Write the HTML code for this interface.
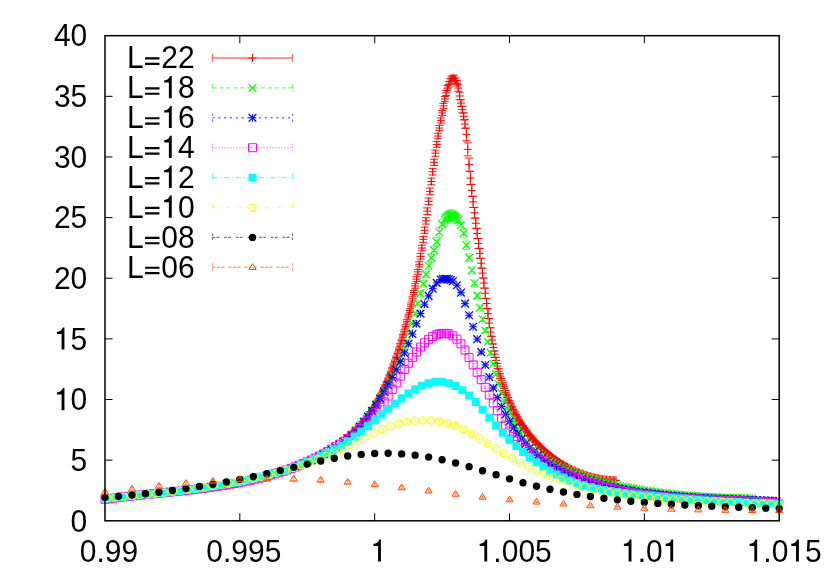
<!DOCTYPE html>
<html><head><meta charset="utf-8"><title>plot</title>
<style>
html,body{margin:0;padding:0;background:#fff;}
body{width:830px;height:581px;overflow:hidden;}
svg{display:block;will-change:transform;}
text{font-family:"Liberation Sans",sans-serif;font-size:30px;fill:#000;}
</style></head><body>
<svg width="830" height="581" viewBox="0 0 830 581">
<rect width="830" height="581" fill="#fff"/>
<path d="M347.71 436.54v1.01M343.71 436.54h8M343.71 437.55h8M349.06 435.4v1.02M345.06 435.4h8M345.06 436.42h8M350.41 434.22v1.03M346.41 434.22h8M346.41 435.26h8M351.76 433.02v1.05M347.76 433.02h8M347.76 434.06h8M353.11 431.78v1.06M349.11 431.78h8M349.11 432.84h8M354.45 430.5v1.08M350.45 430.5h8M350.45 431.58h8M355.8 429.19v1.09M351.8 429.19h8M351.8 430.29h8M357.15 427.85v1.11M353.15 427.85h8M353.15 428.96h8M358.5 426.46v1.13M354.5 426.46h8M354.5 427.58h8M359.85 425.02v1.14M355.85 425.02h8M355.85 426.17h8M361.2 423.54v1.16M357.2 423.54h8M357.2 424.7h8M362.54 422.01v1.18M358.54 422.01h8M358.54 423.19h8M363.89 420.43v1.2M359.89 420.43h8M359.89 421.63h8M365.24 418.79v1.22M361.24 418.79h8M361.24 420.01h8M366.59 417.09v1.24M362.59 417.09h8M362.59 418.33h8M367.94 415.32v1.26M363.94 415.32h8M363.94 416.58h8M369.29 413.48v1.28M365.29 413.48h8M365.29 414.76h8M370.63 411.56v1.3M366.63 411.56h8M366.63 412.87h8M371.98 409.56v1.35M367.98 409.56h8M367.98 410.91h8M373.33 407.47v1.4M369.33 407.47h8M369.33 408.87h8M374.68 405.3v1.46M370.68 405.3h8M370.68 406.76h8M376.03 403.03v1.52M372.03 403.03h8M372.03 404.55h8M377.38 400.68v1.58M373.38 400.68h8M373.38 402.26h8M378.73 398.23v1.65M374.73 398.23h8M374.73 399.87h8M380.07 395.67v1.71M376.07 395.67h8M376.07 397.39h8M381.42 393.02v1.78M377.42 393.02h8M377.42 394.8h8M382.77 390.25v1.86M378.77 390.25h8M378.77 392.11h8M384.12 387.37v1.93M380.12 387.37h8M380.12 389.3h8M385.47 384.38v2.01M381.47 384.38h8M381.47 386.39h8M386.82 381.27v2.09M382.82 381.27h8M382.82 383.36h8M388.16 378.04v2.17M384.16 378.04h8M384.16 380.2h8M389.51 374.68v2.25M385.51 374.68h8M385.51 376.93h8M390.86 371.21v2.33M386.86 371.21h8M386.86 373.54h8M392.21 367.61v2.41M388.21 367.61h8M388.21 370.02h8M393.56 363.9v2.49M389.56 363.9h8M389.56 366.39h8M394.91 360.07v2.56M390.91 360.07h8M390.91 362.63h8M396.25 356.14v2.64M392.25 356.14h8M392.25 358.77h8M397.6 352.09v2.72M393.6 352.09h8M393.6 354.8h8M398.95 347.91v2.8M394.95 347.91h8M394.95 350.71h8M400.3 343.59v2.89M396.3 343.59h8M396.3 346.48h8M401.65 339.13v2.99M397.65 339.13h8M397.65 342.12h8M403 334.52v3.09M399 334.52h8M399 337.61h8M404.34 329.74v3.21M400.34 329.74h8M400.34 332.94h8M405.69 324.78v3.33M401.69 324.78h8M401.69 328.11h8M407.04 319.63v3.46M403.04 319.63h8M403.04 323.08h8M408.39 314.27v3.6M404.39 314.27h8M404.39 317.86h8M409.74 308.69v3.75M405.74 308.69h8M405.74 312.43h8M411.09 302.86v3.91M407.09 302.86h8M407.09 306.77h8M412.44 296.78v4.09M408.44 296.78h8M408.44 300.86h8M413.78 290.41v4.28M409.78 290.41h8M409.78 294.69h8M415.13 283.75v4.48M411.13 283.75h8M411.13 288.22h8M416.48 276.76v4.7M412.48 276.76h8M412.48 281.45h8M417.83 269.42v4.93M413.83 269.42h8M413.83 274.35h8M419.18 261.73v5.17M415.18 261.73h8M415.18 266.9h8M420.53 253.66v5.42M416.53 253.66h8M416.53 259.08h8M421.87 245.21v5.68M417.87 245.21h8M417.87 250.89h8M423.22 236.38v5.93M419.22 236.38h8M419.22 242.31h8M424.57 227.2v6.16M420.57 227.2h8M420.57 233.36h8M425.92 217.69v6.37M421.92 217.69h8M421.92 224.06h8M427.27 207.93v6.52M423.27 207.93h8M423.27 214.46h8M428.62 198.03v6.61M424.62 198.03h8M424.62 204.64h8M429.96 188.09v6.62M425.96 188.09h8M425.96 194.71h8M431.31 178.24v6.55M427.31 178.24h8M427.31 184.78h8M432.66 168.58v6.41M428.66 168.58h8M428.66 174.99h8M434.01 159.21v6.21M430.01 159.21h8M430.01 165.42h8M435.36 150.19v5.97M431.36 150.19h8M431.36 156.16h8M436.71 141.56v5.71M432.71 141.56h8M432.71 147.27h8M438.05 133.32v5.46M434.05 133.32h8M434.05 138.78h8M439.4 125.42v5.23M435.4 125.42h8M435.4 130.65h8M440.75 117.85v5.01M436.75 117.85h8M436.75 122.86h8M442.1 110.54v4.89M438.1 110.54h8M438.1 115.43h8M443.45 103.41v4.98M439.45 103.41h8M439.45 108.39h8M444.8 96.55v5.06M440.8 96.55h8M440.8 101.61h8M446.15 90.39v5.13M442.15 90.39h8M442.15 95.53h8M447.49 85.59v5.19M443.49 85.59h8M443.49 90.78h8M448.84 81.83v5.24M444.84 81.83h8M444.84 87.06h8M450.19 78.75v5.27M446.19 78.75h8M446.19 84.02h8M451.54 76.23v5.3M447.54 76.23h8M447.54 81.54h8M452.89 75.19v5.32M448.89 75.19h8M448.89 80.5h8M454.24 76.01v5.31M450.24 76.01h8M450.24 81.32h8M455.58 77.93v5.28M451.58 77.93h8M451.58 83.22h8M456.93 80.7v5.25M452.93 80.7h8M452.93 85.95h8M458.28 84.65v6.7M454.28 84.65h8M454.28 91.35h8M459.63 92.16v7.62M455.63 92.16h8M455.63 99.78h8M460.98 99.67v6.73M456.98 99.67h8M456.98 106.4h8M462.33 106.34v6.58M458.33 106.34h8M458.33 112.92h8M463.67 112.85v7.03M459.67 112.85h8M459.67 119.88h8M465.02 119.69v8.6M461.02 119.69h8M461.02 128.29h8M466.37 128.02v12.68M462.37 128.02h8M462.37 140.7h8M467.72 142.87v13M463.72 142.87h8M463.72 155.87h8M469.07 158.14v13M465.07 158.14h8M465.07 171.14h8M470.42 171.69v12.79M466.42 171.69h8M466.42 184.48h8M471.76 184.44v11.83M467.76 184.44h8M467.76 196.28h8M473.11 196.25v11.16M469.11 196.25h8M469.11 207.41h8M474.46 207.4v10.68M470.46 207.4h8M470.46 218.07h8M475.81 218.06v10.33M471.81 218.06h8M471.81 228.39h8M477.16 228.38v10.09M473.16 228.38h8M473.16 238.47h8M478.51 238.46v9.94M474.51 238.46h8M474.51 248.41h8M479.86 248.4v9.87M475.86 248.4h8M475.86 258.27h8M481.2 258.26v9.86M477.2 258.26h8M477.2 268.13h8M482.55 268.12v9.93M478.55 268.12h8M478.55 278.05h8M483.9 278.04v10.06M479.9 278.04h8M479.9 288.1h8M485.25 288.1v10.26M481.25 288.1h8M481.25 298.36h8M486.6 298.41v10.24M482.6 298.41h8M482.6 308.64h8M487.95 308.68v9.85M483.95 308.68h8M483.95 318.53h8M489.29 318.55v9.22M485.29 318.55h8M485.29 327.76h8M490.64 327.77v8.48M486.64 327.77h8M486.64 336.25h8M491.99 336.25v7.74M487.99 336.25h8M487.99 343.99h8M493.34 343.98v7.06M489.34 343.98h8M489.34 351.04h8M494.69 351.03v6.44M490.69 351.03h8M490.69 357.47h8M496.04 357.46v5.9M492.04 357.46h8M492.04 363.36h8M497.38 363.35v5.43M493.38 363.35h8M493.38 368.78h8M498.73 368.77v5.01M494.73 368.77h8M494.73 373.78h8M500.08 373.78v4.65M496.08 373.78h8M496.08 378.43h8M501.43 378.43v4.33M497.43 378.43h8M497.43 382.76h8M502.78 382.75v4.05M498.78 382.75h8M498.78 386.8h8M504.13 386.8v3.8M500.13 386.8h8M500.13 390.6h8M505.47 390.6v3.58M501.47 390.6h8M501.47 394.17h8M506.82 394.17v3.37M502.82 394.17h8M502.82 397.55h8M508.17 397.54v3.19M504.17 397.54h8M504.17 400.74h8M509.52 400.74v3.03M505.52 400.74h8M505.52 403.76h8M510.87 403.76v2.88M506.87 403.76h8M506.87 406.64h8M512.22 406.64v2.74M508.22 406.64h8M508.22 409.38h8M513.57 409.38v2.61M509.57 409.38h8M509.57 411.99h8M514.91 411.99v2.5M510.91 411.99h8M510.91 414.49h8M516.26 414.49v2.39M512.26 414.49h8M512.26 416.88h8M517.61 416.88v2.29M513.61 416.88h8M513.61 419.17h8M518.96 419.17v2.2M514.96 419.17h8M514.96 421.37h8M520.31 421.37v2.11M516.31 421.37h8M516.31 423.48h8M521.66 423.48v2.03M517.66 423.48h8M517.66 425.51h8M523 425.51v1.95M519 425.51h8M519 427.46h8M524.35 427.46v1.88M520.35 427.46h8M520.35 429.34h8M525.7 429.34v1.82M521.7 429.34h8M521.7 431.16h8M527.05 431.16v1.75M523.05 431.16h8M523.05 432.91h8M528.4 432.91v1.7M524.4 432.91h8M524.4 434.61h8M529.75 434.61v1.64M525.75 434.61h8M525.75 436.25h8M531.09 436.25v1.59M527.09 436.25h8M527.09 437.84h8M532.44 437.84v1.54M528.44 437.84h8M528.44 439.38h8M533.79 439.38v1.49M529.79 439.38h8M529.79 440.87h8M535.14 440.87v1.45M531.14 440.87h8M531.14 442.32h8M536.49 442.32v1.41M532.49 442.32h8M532.49 443.73h8M537.84 443.73v1.37M533.84 443.73h8M533.84 445.1h8M539.18 445.1v1.33M535.18 445.1h8M535.18 446.42h8M540.53 446.42v1.29M536.53 446.42h8M536.53 447.72h8M541.88 447.72v1.26M537.88 447.72h8M537.88 448.97h8M543.23 448.97v1.22M539.23 448.97h8M539.23 450.19h8M544.58 450.19v1.19M540.58 450.19h8M540.58 451.38h8M545.93 451.38v1.16M541.93 451.38h8M541.93 452.54h8M547.28 452.54v1.12M543.28 452.54h8M543.28 453.66h8M548.62 453.66v1.09M544.62 453.66h8M544.62 454.76h8M549.97 454.76v1.06M545.97 454.76h8M545.97 455.82h8M551.32 455.82v1.04M547.32 455.82h8M547.32 456.86h8M552.67 456.86v1.01M548.67 456.86h8M548.67 457.87h8M554.02 457.87v0.98M550.02 457.87h8M550.02 458.85h8M555.37 458.85v0.95M551.37 458.85h8M551.37 459.8h8M556.71 459.8v0.93M552.71 459.8h8M552.71 460.73h8M558.06 460.73v0.9M554.06 460.73h8M554.06 461.63h8M559.41 461.63v0.88M555.41 461.63h8M555.41 462.51h8M560.76 462.51v0.85M556.76 462.51h8M556.76 463.36h8M562.11 463.36v0.83M558.11 463.36h8M558.11 464.19h8M563.46 464.19v0.8M559.46 464.19h8M559.46 464.99h8" fill="none" stroke="#ff0000" stroke-width="0.9"/>
<path d="M343.71 437.05h8M347.71 433.05v8M345.06 435.91h8M349.06 431.91v8M346.41 434.74h8M350.41 430.74v8M347.76 433.54h8M351.76 429.54v8M349.11 432.31h8M353.11 428.31v8M350.45 431.04h8M354.45 427.04v8M351.8 429.74h8M355.8 425.74v8M353.15 428.4h8M357.15 424.4v8M354.5 427.02h8M358.5 423.02v8M355.85 425.59h8M359.85 421.59v8M357.2 424.12h8M361.2 420.12v8M358.54 422.6h8M362.54 418.6v8M359.89 421.03h8M363.89 417.03v8M361.24 419.4h8M365.24 415.4v8M362.59 417.71h8M366.59 413.71v8M363.94 415.95h8M367.94 411.95v8M365.29 414.12h8M369.29 410.12v8M366.63 412.21h8M370.63 408.21v8M367.98 410.23h8M371.98 406.23v8M369.33 408.17h8M373.33 404.17v8M370.68 406.03h8M374.68 402.03v8M372.03 403.79h8M376.03 399.79v8M373.38 401.47h8M377.38 397.47v8M374.73 399.05h8M378.73 395.05v8M376.07 396.53h8M380.07 392.53v8M377.42 393.91h8M381.42 389.91v8M378.77 391.18h8M382.77 387.18v8M380.12 388.34h8M384.12 384.34v8M381.47 385.38h8M385.47 381.38v8M382.82 382.31h8M386.82 378.31v8M384.16 379.12h8M388.16 375.12v8M385.51 375.81h8M389.51 371.81v8M386.86 372.37h8M390.86 368.37v8M388.21 368.82h8M392.21 364.82v8M389.56 365.14h8M393.56 361.14v8M390.91 361.35h8M394.91 357.35v8M392.25 357.46h8M396.25 353.46v8M393.6 353.44h8M397.6 349.44v8M394.95 349.31h8M398.95 345.31v8M396.3 345.04h8M400.3 341.04v8M397.65 340.63h8M401.65 336.63v8M399 336.06h8M403 332.06v8M400.34 331.34h8M404.34 327.34v8M401.69 326.44h8M405.69 322.44v8M403.04 321.36h8M407.04 317.36v8M404.39 316.07h8M408.39 312.07v8M405.74 310.56h8M409.74 306.56v8M407.09 304.82h8M411.09 300.82v8M408.44 298.82h8M412.44 294.82v8M409.78 292.55h8M413.78 288.55v8M411.13 285.98h8M415.13 281.98v8M412.48 279.1h8M416.48 275.1v8M413.83 271.89h8M417.83 267.89v8M415.18 264.32h8M419.18 260.32v8M416.53 256.37h8M420.53 252.37v8M417.87 248.05h8M421.87 244.05v8M419.22 239.35h8M423.22 235.35v8M420.57 230.28h8M424.57 226.28v8M421.92 220.87h8M425.92 216.87v8M423.27 211.19h8M427.27 207.19v8M424.62 201.33h8M428.62 197.33v8M425.96 191.4h8M429.96 187.4v8M427.31 181.51h8M431.31 177.51v8M428.66 171.78h8M432.66 167.78v8M430.01 162.31h8M434.01 158.31v8M431.36 153.18h8M435.36 149.18v8M432.71 144.42h8M436.71 140.42v8M434.05 136.05h8M438.05 132.05v8M435.4 128.04h8M439.4 124.04v8M436.75 120.36h8M440.75 116.36v8M438.1 112.99h8M442.1 108.99v8M439.45 105.9h8M443.45 101.9v8M440.8 99.08h8M444.8 95.08v8M442.15 92.96h8M446.15 88.96v8M443.49 88.18h8M447.49 84.18v8M444.84 84.44h8M448.84 80.44v8M446.19 81.38h8M450.19 77.38v8M447.54 78.88h8M451.54 74.88v8M448.89 77.85h8M452.89 73.85v8M450.24 78.66h8M454.24 74.66v8M451.58 80.58h8M455.58 76.58v8M452.93 83.33h8M456.93 79.33v8M454.28 88h8M458.28 84v8M455.63 95.97h8M459.63 91.97v8M456.98 103.04h8M460.98 99.04v8M458.33 109.63h8M462.33 105.63v8M459.67 116.37h8M463.67 112.37v8M461.02 123.99h8M465.02 119.99v8M462.37 134.36h8M466.37 130.36v8M463.72 149.37h8M467.72 145.37v8M465.07 164.64h8M469.07 160.64v8M466.42 178.09h8M470.42 174.09v8M467.76 190.36h8M471.76 186.36v8M469.11 201.83h8M473.11 197.83v8M470.46 212.73h8M474.46 208.73v8M471.81 223.22h8M475.81 219.22v8M473.16 233.43h8M477.16 229.43v8M474.51 243.44h8M478.51 239.44v8M475.86 253.33h8M479.86 249.33v8M477.2 263.19h8M481.2 259.19v8M478.55 273.08h8M482.55 269.08v8M479.9 283.07h8M483.9 279.07v8M481.25 293.23h8M485.25 289.23v8M482.6 303.52h8M486.6 299.52v8M483.95 313.6h8M487.95 309.6v8M485.29 323.15h8M489.29 319.15v8M486.64 332.01h8M490.64 328.01v8M487.99 340.12h8M491.99 336.12v8M489.34 347.51h8M493.34 343.51v8M490.69 354.25h8M494.69 350.25v8M492.04 360.41h8M496.04 356.41v8M493.38 366.07h8M497.38 362.07v8M494.73 371.28h8M498.73 367.28v8M496.08 376.1h8M500.08 372.1v8M497.43 380.59h8M501.43 376.59v8M498.78 384.78h8M502.78 380.78v8M500.13 388.7h8M504.13 384.7v8M501.47 392.39h8M505.47 388.39v8M502.82 395.86h8M506.82 391.86v8M504.17 399.14h8M508.17 395.14v8M505.52 402.25h8M509.52 398.25v8M506.87 405.2h8M510.87 401.2v8M508.22 408.01h8M512.22 404.01v8M509.57 410.69h8M513.57 406.69v8M510.91 413.24h8M514.91 409.24v8M512.26 415.68h8M516.26 411.68v8M513.61 418.02h8M517.61 414.02v8M514.96 420.27h8M518.96 416.27v8M516.31 422.42h8M520.31 418.42v8M517.66 424.49h8M521.66 420.49v8M519 426.48h8M523 422.48v8M520.35 428.4h8M524.35 424.4v8M521.7 430.25h8M525.7 426.25v8M523.05 432.04h8M527.05 428.04v8M524.4 433.76h8M528.4 429.76v8M525.75 435.43h8M529.75 431.43v8M527.09 437.04h8M531.09 433.04v8M528.44 438.61h8M532.44 434.61v8M529.79 440.12h8M533.79 436.12v8M531.14 441.6h8M535.14 437.6v8M532.49 443.02h8M536.49 439.02v8M533.84 444.41h8M537.84 440.41v8M535.18 445.76h8M539.18 441.76v8M536.53 447.07h8M540.53 443.07v8M537.88 448.34h8M541.88 444.34v8M539.23 449.58h8M543.23 445.58v8M540.58 450.79h8M544.58 446.79v8M541.93 451.96h8M545.93 447.96v8M543.28 453.1h8M547.28 449.1v8M544.62 454.21h8M548.62 450.21v8M545.97 455.29h8M549.97 451.29v8M547.32 456.34h8M551.32 452.34v8M548.67 457.36h8M552.67 453.36v8M550.02 458.36h8M554.02 454.36v8M551.37 459.32h8M555.37 455.32v8M552.71 460.26h8M556.71 456.26v8M554.06 461.18h8M558.06 457.18v8M555.41 462.07h8M559.41 458.07v8M556.76 462.93h8M560.76 458.93v8M558.11 463.77h8M562.11 459.77v8M559.46 464.59h8M563.46 460.59v8M560.8 465.38h8M564.8 461.38v8M562.15 466.15h8M566.15 462.15v8M563.5 466.9h8M567.5 462.9v8M564.85 467.62h8M568.85 463.62v8M566.2 468.32h8M570.2 464.32v8M567.55 469.01h8M571.55 465.01v8M568.89 469.66h8M572.89 465.66v8M570.24 470.3h8M574.24 466.3v8M571.59 470.92h8M575.59 466.92v8M572.94 471.51h8M576.94 467.51v8M574.29 472.09h8M578.29 468.09v8M575.64 472.64h8M579.64 468.64v8M576.99 473.18h8M580.99 469.18v8M578.33 473.69h8M582.33 469.69v8M579.68 474.19h8M583.68 470.19v8M581.03 474.66h8M585.03 470.66v8M582.38 475.12h8M586.38 471.12v8M583.73 475.55h8M587.73 471.55v8M585.08 475.97h8M589.08 471.97v8M586.42 476.37h8M590.42 472.37v8M587.77 476.74h8M591.77 472.74v8M589.12 477.1h8M593.12 473.1v8M590.47 477.45h8M594.47 473.45v8M591.82 477.77h8M595.82 473.77v8M593.17 478.07h8M597.17 474.07v8M594.51 478.36h8M598.51 474.36v8M595.86 478.62h8M599.86 474.62v8M597.21 478.87h8M601.21 474.87v8M598.56 479.1h8M602.56 475.1v8M599.91 479.31h8M603.91 475.31v8M601.26 479.51h8M605.26 475.51v8M602.6 479.68h8M606.6 475.68v8M603.95 479.84h8M607.95 475.84v8M605.3 479.98h8M609.3 475.98v8M606.65 480.1h8M610.65 476.1v8M608 480.2h8M612 476.2v8M609.35 480.29h8M613.35 476.29v8M610.7 480.36h8M614.7 476.36v8M612.04 480.41h8M616.04 476.41v8" fill="none" stroke="#ff0000" stroke-width="1.0"/>
<path d="M355.8 429.84v0.92M352.6 429.84h6.4M352.6 430.76h6.4M358.5 427.03v0.98M355.3 427.03h6.4M355.3 428h6.4M361.2 424.09v1.04M358 424.09h6.4M358 425.13h6.4M363.89 421.01v1.11M360.69 421.01h6.4M360.69 422.12h6.4M366.59 417.8v1.18M363.39 417.8h6.4M363.39 418.97h6.4M369.29 414.43v1.25M366.09 414.43h6.4M366.09 415.68h6.4M371.98 410.89v1.34M368.78 410.89h6.4M368.78 412.23h6.4M374.68 407.19v1.43M371.48 407.19h6.4M371.48 408.62h6.4M377.38 403.29v1.53M374.18 403.29h6.4M374.18 404.82h6.4M380.07 399.19v1.64M376.87 399.19h6.4M376.87 400.83h6.4M382.77 394.86v1.76M379.57 394.86h6.4M379.57 396.62h6.4M385.47 390.29v1.88M382.27 390.29h6.4M382.27 392.18h6.4M388.16 385.45v2.03M384.96 385.45h6.4M384.96 387.48h6.4M390.86 380.3v2.18M387.66 380.3h6.4M387.66 382.48h6.4M393.56 374.8v2.35M390.36 374.8h6.4M390.36 377.15h6.4M396.25 368.89v2.55M393.05 368.89h6.4M393.05 371.44h6.4M398.95 362.5v2.76M395.75 362.5h6.4M395.75 365.26h6.4M401.65 355.54v3.01M398.45 355.54h6.4M398.45 358.55h6.4M404.34 347.96v3.29M401.14 347.96h6.4M401.14 351.25h6.4M407.04 339.7v3.61M403.84 339.7h6.4M403.84 343.31h6.4M409.74 330.76v3.97M406.54 330.76h6.4M406.54 334.73h6.4M412.44 321.19v4.37M409.24 321.19h6.4M409.24 325.56h6.4M415.13 311.11v4.82M411.93 311.11h6.4M411.93 315.93h6.4M417.83 300.75v5.3M414.63 300.75h6.4M414.63 306.06h6.4M420.53 290.43v5.81M417.33 290.43h6.4M417.33 296.23h6.4M423.22 280.42v6.32M420.02 280.42h6.4M420.02 286.73h6.4M425.92 270.95v6.82M422.72 270.95h6.4M422.72 277.77h6.4M428.62 262.15v7.3M425.42 262.15h6.4M425.42 269.45h6.4M431.31 254v7.76M428.11 254h6.4M428.11 261.76h6.4M434.01 246.02v8.22M430.81 246.02h6.4M430.81 254.24h6.4M436.71 237.5v8.73M433.51 237.5h6.4M433.51 246.23h6.4M439.4 227.53v9.35M436.2 227.53h6.4M436.2 236.88h6.4M442.1 219.18v9.88M438.9 219.18h6.4M438.9 229.05h6.4M444.8 214.4v10.19M441.6 214.4h6.4M441.6 224.59h6.4M446.15 212.78v10.29M442.95 212.78h6.4M442.95 223.07h6.4M447.49 211.5v10.38M444.29 211.5h6.4M444.29 221.88h6.4M448.84 210.56v10.44M445.64 210.56h6.4M445.64 221h6.4M450.19 209.99v10.48M446.99 209.99h6.4M446.99 220.47h6.4M451.54 209.86v10.49M448.34 209.86h6.4M448.34 220.35h6.4M452.89 210.19v10.47M449.69 210.19h6.4M449.69 220.65h6.4M454.24 210.92v10.42M451.04 210.92h6.4M451.04 221.34h6.4M455.58 212.01v10.34M452.38 212.01h6.4M452.38 222.36h6.4M456.93 213.43v10.25M453.73 213.43h6.4M453.73 223.68h6.4M458.28 215.16v10.14M455.08 215.16h6.4M455.08 225.3h6.4M460.98 220.09v9.82M457.78 220.09h6.4M457.78 229.91h6.4M463.67 228.65v9.28M460.47 228.65h6.4M460.47 237.92h6.4M466.37 240.92v8.52M463.17 240.92h6.4M463.17 249.44h6.4M469.07 253.79v7.77M465.87 253.79h6.4M465.87 261.56h6.4M471.76 266.92v7.03M468.56 266.92h6.4M468.56 273.95h6.4M474.46 280.02v6.34M471.26 280.02h6.4M471.26 286.35h6.4M477.16 292.8v5.69M473.96 292.8h6.4M473.96 298.49h6.4M479.86 305.1v5.1M476.66 305.1h6.4M476.66 310.2h6.4M482.55 317v4.56M479.35 317h6.4M479.35 321.56h6.4M485.25 328.61v4.06M482.05 328.61h6.4M482.05 332.66h6.4M487.95 340v3.6M484.75 340h6.4M484.75 343.59h6.4M490.64 351.25v3.17M487.44 351.25h6.4M487.44 354.42h6.4M493.34 362.38v2.77M490.14 362.38h6.4M490.14 365.15h6.4M496.04 373.06v2.41M492.84 373.06h6.4M492.84 375.47h6.4M498.73 382.95v2.1M495.53 382.95h6.4M495.53 385.05h6.4M501.43 391.92v1.84M498.23 391.92h6.4M498.23 393.76h6.4M504.13 399.97v1.62M500.93 399.97h6.4M500.93 401.58h6.4M506.82 407.15v1.43M503.62 407.15h6.4M503.62 408.58h6.4M509.52 413.56v1.28M506.32 413.56h6.4M506.32 414.83h6.4M512.22 419.29v1.14M509.02 419.29h6.4M509.02 420.43h6.4M514.91 424.42v1.03M511.71 424.42h6.4M511.71 425.45h6.4M517.61 429.04v0.94M514.41 429.04h6.4M514.41 429.97h6.4M520.31 433.19v0.85M517.11 433.19h6.4M517.11 434.05h6.4" fill="none" stroke="#00ff00" stroke-width="0.5"/>
<path d="M351.95 426.45l7.7 7.7M351.95 434.15l7.7 -7.7M354.65 423.66l7.7 7.7M354.65 431.36l7.7 -7.7M357.35 420.76l7.7 7.7M357.35 428.46l7.7 -7.7M360.04 417.72l7.7 7.7M360.04 425.42l7.7 -7.7M362.74 414.54l7.7 7.7M362.74 422.24l7.7 -7.7M365.44 411.2l7.7 7.7M365.44 418.9l7.7 -7.7M368.13 407.71l7.7 7.7M368.13 415.41l7.7 -7.7M370.83 404.05l7.7 7.7M370.83 411.75l7.7 -7.7M373.53 400.2l7.7 7.7M373.53 407.9l7.7 -7.7M376.22 396.16l7.7 7.7M376.22 403.86l7.7 -7.7M378.92 391.89l7.7 7.7M378.92 399.59l7.7 -7.7M381.62 387.39l7.7 7.7M381.62 395.09l7.7 -7.7M384.31 382.61l7.7 7.7M384.31 390.31l7.7 -7.7M387.01 377.54l7.7 7.7M387.01 385.24l7.7 -7.7M389.71 372.12l7.7 7.7M389.71 379.82l7.7 -7.7M392.4 366.31l7.7 7.7M392.4 374.01l7.7 -7.7M395.1 360.03l7.7 7.7M395.1 367.73l7.7 -7.7M397.8 353.2l7.7 7.7M397.8 360.9l7.7 -7.7M400.49 345.75l7.7 7.7M400.49 353.45l7.7 -7.7M403.19 337.66l7.7 7.7M403.19 345.36l7.7 -7.7M405.89 328.9l7.7 7.7M405.89 336.6l7.7 -7.7M408.59 319.52l7.7 7.7M408.59 327.22l7.7 -7.7M411.28 309.67l7.7 7.7M411.28 317.37l7.7 -7.7M413.98 299.56l7.7 7.7M413.98 307.26l7.7 -7.7M416.68 289.48l7.7 7.7M416.68 297.18l7.7 -7.7M419.37 279.73l7.7 7.7M419.37 287.43l7.7 -7.7M422.07 270.51l7.7 7.7M422.07 278.21l7.7 -7.7M424.77 261.95l7.7 7.7M424.77 269.65l7.7 -7.7M427.46 254.03l7.7 7.7M427.46 261.73l7.7 -7.7M430.16 246.28l7.7 7.7M430.16 253.98l7.7 -7.7M432.86 238.02l7.7 7.7M432.86 245.72l7.7 -7.7M435.55 228.35l7.7 7.7M435.55 236.05l7.7 -7.7M438.25 220.26l7.7 7.7M438.25 227.96l7.7 -7.7M440.95 215.64l7.7 7.7M440.95 223.34l7.7 -7.7M442.3 214.07l7.7 7.7M442.3 221.77l7.7 -7.7M443.64 212.84l7.7 7.7M443.64 220.54l7.7 -7.7M444.99 211.93l7.7 7.7M444.99 219.63l7.7 -7.7M446.34 211.38l7.7 7.7M446.34 219.08l7.7 -7.7M447.69 211.25l7.7 7.7M447.69 218.95l7.7 -7.7M449.04 211.57l7.7 7.7M449.04 219.27l7.7 -7.7M450.39 212.28l7.7 7.7M450.39 219.98l7.7 -7.7M451.73 213.33l7.7 7.7M451.73 221.03l7.7 -7.7M453.08 214.7l7.7 7.7M453.08 222.4l7.7 -7.7M454.43 216.38l7.7 7.7M454.43 224.08l7.7 -7.7M457.13 221.15l7.7 7.7M457.13 228.85l7.7 -7.7M459.82 229.44l7.7 7.7M459.82 237.14l7.7 -7.7M462.52 241.33l7.7 7.7M462.52 249.03l7.7 -7.7M465.22 253.82l7.7 7.7M465.22 261.52l7.7 -7.7M467.91 266.58l7.7 7.7M467.91 274.28l7.7 -7.7M470.61 279.34l7.7 7.7M470.61 287.04l7.7 -7.7M473.31 291.79l7.7 7.7M473.31 299.49l7.7 -7.7M476.01 303.8l7.7 7.7M476.01 311.5l7.7 -7.7M478.7 315.43l7.7 7.7M478.7 323.13l7.7 -7.7M481.4 326.78l7.7 7.7M481.4 334.48l7.7 -7.7M484.1 337.95l7.7 7.7M484.1 345.65l7.7 -7.7M486.79 348.98l7.7 7.7M486.79 356.68l7.7 -7.7M489.49 359.91l7.7 7.7M489.49 367.61l7.7 -7.7M492.19 370.42l7.7 7.7M492.19 378.12l7.7 -7.7M494.88 380.15l7.7 7.7M494.88 387.85l7.7 -7.7M497.58 388.99l7.7 7.7M497.58 396.69l7.7 -7.7M500.28 396.93l7.7 7.7M500.28 404.63l7.7 -7.7M502.97 404.01l7.7 7.7M502.97 411.71l7.7 -7.7M505.67 410.35l7.7 7.7M505.67 418.05l7.7 -7.7M508.37 416.01l7.7 7.7M508.37 423.71l7.7 -7.7M511.06 421.09l7.7 7.7M511.06 428.79l7.7 -7.7M513.76 425.66l7.7 7.7M513.76 433.36l7.7 -7.7M516.46 429.77l7.7 7.7M516.46 437.47l7.7 -7.7M519.15 433.49l7.7 7.7M519.15 441.19l7.7 -7.7M521.85 436.85l7.7 7.7M521.85 444.55l7.7 -7.7M524.55 439.89l7.7 7.7M524.55 447.59l7.7 -7.7M527.24 442.67l7.7 7.7M527.24 450.37l7.7 -7.7M529.94 445.23l7.7 7.7M529.94 452.93l7.7 -7.7M532.64 447.59l7.7 7.7M532.64 455.29l7.7 -7.7M535.33 449.78l7.7 7.7M535.33 457.48l7.7 -7.7M538.03 451.83l7.7 7.7M538.03 459.53l7.7 -7.7M540.73 453.74l7.7 7.7M540.73 461.44l7.7 -7.7M543.43 455.54l7.7 7.7M543.43 463.24l7.7 -7.7M546.12 457.23l7.7 7.7M546.12 464.93l7.7 -7.7M548.82 458.83l7.7 7.7M548.82 466.53l7.7 -7.7M551.52 460.34l7.7 7.7M551.52 468.04l7.7 -7.7M554.21 461.77l7.7 7.7M554.21 469.47l7.7 -7.7M556.91 463.13l7.7 7.7M556.91 470.83l7.7 -7.7M559.61 464.42l7.7 7.7M559.61 472.12l7.7 -7.7M562.3 465.65l7.7 7.7M562.3 473.35l7.7 -7.7M565 466.83l7.7 7.7M565 474.53l7.7 -7.7M567.7 467.95l7.7 7.7M567.7 475.65l7.7 -7.7M570.39 469.02l7.7 7.7M570.39 476.72l7.7 -7.7M573.09 470.04l7.7 7.7M573.09 477.74l7.7 -7.7M575.79 471.02l7.7 7.7M575.79 478.72l7.7 -7.7M578.48 471.96l7.7 7.7M578.48 479.66l7.7 -7.7M581.18 472.87l7.7 7.7M581.18 480.57l7.7 -7.7M583.88 473.74l7.7 7.7M583.88 481.44l7.7 -7.7M586.57 474.57l7.7 7.7M586.57 482.27l7.7 -7.7M589.27 475.38l7.7 7.7M589.27 483.08l7.7 -7.7M591.97 476.15l7.7 7.7M591.97 483.85l7.7 -7.7M594.66 476.9l7.7 7.7M594.66 484.6l7.7 -7.7M597.36 477.62l7.7 7.7M597.36 485.32l7.7 -7.7M600.06 478.32l7.7 7.7M600.06 486.02l7.7 -7.7M602.75 479l7.7 7.7M602.75 486.7l7.7 -7.7M605.45 479.66l7.7 7.7M605.45 487.36l7.7 -7.7M608.15 480.29l7.7 7.7M608.15 487.99l7.7 -7.7M610.85 480.91l7.7 7.7M610.85 488.61l7.7 -7.7M613.54 481.51l7.7 7.7M613.54 489.21l7.7 -7.7M616.24 482.1l7.7 7.7M616.24 489.8l7.7 -7.7M618.94 482.66l7.7 7.7M618.94 490.36l7.7 -7.7M621.63 483.21l7.7 7.7M621.63 490.91l7.7 -7.7M624.33 483.74l7.7 7.7M624.33 491.44l7.7 -7.7M627.03 484.26l7.7 7.7M627.03 491.96l7.7 -7.7M629.72 484.76l7.7 7.7M629.72 492.46l7.7 -7.7M632.42 485.24l7.7 7.7M632.42 492.94l7.7 -7.7M635.12 485.7l7.7 7.7M635.12 493.4l7.7 -7.7M637.81 486.15l7.7 7.7M637.81 493.85l7.7 -7.7M640.51 486.59l7.7 7.7M640.51 494.29l7.7 -7.7M643.21 487.01l7.7 7.7M643.21 494.71l7.7 -7.7M645.9 487.41l7.7 7.7M645.9 495.11l7.7 -7.7M648.6 487.8l7.7 7.7M648.6 495.5l7.7 -7.7M651.3 488.18l7.7 7.7M651.3 495.88l7.7 -7.7M653.99 488.54l7.7 7.7M653.99 496.24l7.7 -7.7M656.69 488.88l7.7 7.7M656.69 496.58l7.7 -7.7M659.39 489.22l7.7 7.7M659.39 496.92l7.7 -7.7M662.08 489.54l7.7 7.7M662.08 497.24l7.7 -7.7M664.78 489.85l7.7 7.7M664.78 497.55l7.7 -7.7M667.48 490.14l7.7 7.7M667.48 497.84l7.7 -7.7M670.17 490.43l7.7 7.7M670.17 498.13l7.7 -7.7M672.87 490.7l7.7 7.7M672.87 498.4l7.7 -7.7M675.57 490.96l7.7 7.7M675.57 498.66l7.7 -7.7M678.27 491.21l7.7 7.7M678.27 498.91l7.7 -7.7M680.96 491.44l7.7 7.7M680.96 499.14l7.7 -7.7M683.66 491.67l7.7 7.7M683.66 499.37l7.7 -7.7M686.36 491.89l7.7 7.7M686.36 499.59l7.7 -7.7M689.05 492.09l7.7 7.7M689.05 499.79l7.7 -7.7M691.75 492.29l7.7 7.7M691.75 499.99l7.7 -7.7M694.45 492.47l7.7 7.7M694.45 500.17l7.7 -7.7M697.14 492.65l7.7 7.7M697.14 500.35l7.7 -7.7M699.84 492.82l7.7 7.7M699.84 500.52l7.7 -7.7M702.54 492.98l7.7 7.7M702.54 500.68l7.7 -7.7M705.23 493.13l7.7 7.7M705.23 500.83l7.7 -7.7M707.93 493.27l7.7 7.7M707.93 500.97l7.7 -7.7M710.63 493.41l7.7 7.7M710.63 501.11l7.7 -7.7M713.32 493.53l7.7 7.7M713.32 501.23l7.7 -7.7M716.02 493.65l7.7 7.7M716.02 501.35l7.7 -7.7M718.72 493.77l7.7 7.7M718.72 501.47l7.7 -7.7M721.41 493.87l7.7 7.7M721.41 501.57l7.7 -7.7M724.11 493.97l7.7 7.7M724.11 501.67l7.7 -7.7M726.81 494.07l7.7 7.7M726.81 501.77l7.7 -7.7M729.5 494.16l7.7 7.7M729.5 501.86l7.7 -7.7M732.2 494.24l7.7 7.7M732.2 501.94l7.7 -7.7M734.9 494.32l7.7 7.7M734.9 502.02l7.7 -7.7M737.59 494.39l7.7 7.7M737.59 502.09l7.7 -7.7M740.29 494.46l7.7 7.7M740.29 502.16l7.7 -7.7M742.99 494.52l7.7 7.7M742.99 502.22l7.7 -7.7M745.69 494.58l7.7 7.7M745.69 502.28l7.7 -7.7M748.38 494.64l7.7 7.7M748.38 502.34l7.7 -7.7" fill="none" stroke="#00ff00" stroke-width="1.2"/>
<path d="M263.01 475.51h7.6M266.81 471.71v7.6M267.05 474.4h7.6M270.85 470.6v7.6M271.1 473.23h7.6M274.9 469.43v7.6M275.14 472.01h7.6M278.94 468.21v7.6M279.19 470.73h7.6M282.99 466.93v7.6M283.23 469.39h7.6M287.03 465.59v7.6M287.28 467.99h7.6M291.08 464.19v7.6M291.32 466.52h7.6M295.12 462.72v7.6M295.37 464.99h7.6M299.17 461.19v7.6M299.41 463.38h7.6M303.21 459.58v7.6M303.46 461.7h7.6M307.26 457.9v7.6M307.51 459.95h7.6M311.31 456.15v7.6M311.55 458.1h7.6M315.35 454.3v7.6M315.6 456.16h7.6M319.4 452.36v7.6M319.64 454.1h7.6M323.44 450.3v7.6M323.69 451.91h7.6M327.49 448.11v7.6M327.73 449.58h7.6M331.53 445.78v7.6M331.78 447.08h7.6M335.58 443.28v7.6M335.82 444.39h7.6M339.62 440.59v7.6M339.87 441.48h7.6M343.67 437.68v7.6M343.91 438.3h7.6M347.71 434.5v7.6M347.96 434.81h7.6M351.76 431.01v7.6M352 430.95h7.6M355.8 427.15v7.6M356.05 426.63h7.6M359.85 422.83v7.6M360.09 421.83h7.6M363.89 418.03v7.6M364.14 416.57h7.6M367.94 412.77v7.6M368.18 410.88h7.6M371.98 407.08v7.6M372.23 404.82h7.6M376.03 401.02v7.6M376.27 398.47h7.6M380.07 394.67v7.6M380.32 391.82h7.6M384.12 388.02v7.6M384.36 384.83h7.6M388.16 381.03v7.6M388.41 377.49h7.6M392.21 373.69v7.6M392.45 369.76h7.6M396.25 365.96v7.6M396.5 361.6h7.6M400.3 357.8v7.6M400.54 352.95h7.6M404.34 349.15v7.6M404.59 343.78h7.6M408.39 339.98v7.6M408.64 334.01h7.6M412.44 330.21v7.6M412.68 323.72h7.6M416.48 319.92v7.6M416.73 313.57h7.6M420.53 309.77v7.6M420.77 304.19h7.6M424.57 300.39v7.6M424.82 295.87h7.6M428.62 292.07v7.6M428.86 288.59h7.6M432.66 284.79v7.6M432.91 282.84h7.6M436.71 279.04v7.6M436.95 279.68h7.6M440.75 275.88v7.6M438.97 278.99h7.6M442.77 275.19v7.6M441 278.72h7.6M444.8 274.92v7.6M443.02 278.81h7.6M446.82 275.01v7.6M445.04 279.23h7.6M448.84 275.43v7.6M447.06 280h7.6M450.86 276.2v7.6M449.09 281.2h7.6M452.89 277.4v7.6M453.13 285.3h7.6M456.93 281.5v7.6M457.18 292.63h7.6M460.98 288.83v7.6M461.22 303.65h7.6M465.02 299.85v7.6M465.27 315.25h7.6M469.07 311.45v7.6M469.31 326.74h7.6M473.11 322.94v7.6M473.36 339.1h7.6M477.16 335.3v7.6M477.4 352.09h7.6M481.2 348.29v7.6M481.45 364.94h7.6M485.25 361.14v7.6M485.49 377h7.6M489.29 373.2v7.6M489.54 387.93h7.6M493.34 384.13v7.6M493.58 397.71h7.6M497.38 393.91v7.6M497.63 406.47h7.6M501.43 402.67v7.6M501.67 414.35h7.6M505.47 410.55v7.6M505.72 421.45h7.6M509.52 417.65v7.6M509.77 427.87h7.6M513.57 424.07v7.6M513.81 433.66h7.6M517.61 429.86v7.6M517.86 438.91h7.6M521.66 435.11v7.6M521.9 443.66h7.6M525.7 439.86v7.6M525.95 447.95h7.6M529.75 444.15v7.6M529.99 451.83h7.6M533.79 448.03v7.6M534.04 455.32h7.6M537.84 451.52v7.6M538.08 458.48h7.6M541.88 454.68v7.6M542.13 461.35h7.6M545.93 457.55v7.6M546.17 463.97h7.6M549.97 460.17v7.6M550.22 466.38h7.6M554.02 462.58v7.6M554.26 468.59h7.6M558.06 464.79v7.6M558.31 470.64h7.6M562.11 466.84v7.6M562.35 472.53h7.6M566.15 468.73v7.6M566.4 474.28h7.6M570.2 470.48v7.6M570.44 475.91h7.6M574.24 472.11v7.6M574.49 477.43h7.6M578.29 473.63v7.6M578.53 478.85h7.6M582.33 475.05v7.6M582.58 480.17h7.6M586.38 476.37v7.6M586.62 481.41h7.6M590.42 477.61v7.6M590.67 482.57h7.6M594.47 478.77v7.6M594.71 483.66h7.6M598.51 479.86v7.6M598.76 484.69h7.6M602.56 480.89v7.6M602.8 485.65h7.6M606.6 481.85v7.6M606.85 486.56h7.6M610.65 482.76v7.6M610.9 487.43h7.6M614.7 483.63v7.6M614.94 488.24h7.6M618.74 484.44v7.6M618.99 489.02h7.6M622.79 485.22v7.6M623.03 489.75h7.6M626.83 485.95v7.6M627.08 490.45h7.6M630.88 486.65v7.6M631.12 491.12h7.6M634.92 487.32v7.6M635.17 491.75h7.6M638.97 487.95v7.6M639.21 492.34h7.6M643.01 488.54v7.6M643.26 492.9h7.6M647.06 489.1v7.6M647.3 493.43h7.6M651.1 489.63v7.6M651.35 493.93h7.6M655.15 490.13v7.6M655.39 494.4h7.6M659.19 490.6v7.6M659.44 494.84h7.6M663.24 491.04v7.6M663.48 495.25h7.6M667.28 491.45v7.6M667.53 495.64h7.6M671.33 491.84v7.6M671.57 496.01h7.6M675.37 492.21v7.6M675.62 496.35h7.6M679.42 492.55v7.6M679.66 496.67h7.6M683.46 492.87v7.6M683.71 496.96h7.6M687.51 493.16v7.6M687.75 497.24h7.6M691.55 493.44v7.6M691.8 497.5h7.6M695.6 493.7v7.6M695.84 497.75h7.6M699.64 493.95v7.6M699.89 497.97h7.6M703.69 494.17v7.6M703.93 498.19h7.6M707.73 494.39v7.6M707.98 498.39h7.6M711.78 494.59v7.6M712.03 498.58h7.6M715.83 494.78v7.6M716.07 498.76h7.6M719.87 494.96v7.6M720.12 498.92h7.6M723.92 495.12v7.6M724.16 499.09h7.6M727.96 495.29v7.6M728.21 499.24h7.6M732.01 495.44v7.6M732.25 499.39h7.6M736.05 495.59v7.6M736.3 499.54h7.6M740.1 495.74v7.6M740.34 499.68h7.6M744.14 495.88v7.6M744.39 499.82h7.6M748.19 496.02v7.6M748.43 499.96h7.6M752.23 496.16v7.6M752.48 500.1h7.6M756.28 496.3v7.6M756.52 500.24h7.6M760.32 496.44v7.6M760.57 500.39h7.6M764.37 496.59v7.6M764.61 500.54h7.6M768.41 496.74v7.6M768.66 500.7h7.6M772.46 496.9v7.6M772.7 500.86h7.6M776.5 497.06v7.6" fill="none" stroke="#0000ff" stroke-width="1"/>
<path d="M262.96 471.66l7.7 7.7M262.96 479.36l7.7 -7.7M267 470.55l7.7 7.7M267 478.25l7.7 -7.7M271.05 469.38l7.7 7.7M271.05 477.08l7.7 -7.7M275.09 468.16l7.7 7.7M275.09 475.86l7.7 -7.7M279.14 466.88l7.7 7.7M279.14 474.58l7.7 -7.7M283.18 465.54l7.7 7.7M283.18 473.24l7.7 -7.7M287.23 464.14l7.7 7.7M287.23 471.84l7.7 -7.7M291.27 462.67l7.7 7.7M291.27 470.37l7.7 -7.7M295.32 461.14l7.7 7.7M295.32 468.84l7.7 -7.7M299.36 459.53l7.7 7.7M299.36 467.23l7.7 -7.7M303.41 457.85l7.7 7.7M303.41 465.55l7.7 -7.7M307.46 456.1l7.7 7.7M307.46 463.8l7.7 -7.7M311.5 454.25l7.7 7.7M311.5 461.95l7.7 -7.7M315.55 452.31l7.7 7.7M315.55 460.01l7.7 -7.7M319.59 450.25l7.7 7.7M319.59 457.95l7.7 -7.7M323.64 448.06l7.7 7.7M323.64 455.76l7.7 -7.7M327.68 445.73l7.7 7.7M327.68 453.43l7.7 -7.7M331.73 443.23l7.7 7.7M331.73 450.93l7.7 -7.7M335.77 440.54l7.7 7.7M335.77 448.24l7.7 -7.7M339.82 437.63l7.7 7.7M339.82 445.33l7.7 -7.7M343.86 434.45l7.7 7.7M343.86 442.15l7.7 -7.7M347.91 430.96l7.7 7.7M347.91 438.66l7.7 -7.7M351.95 427.1l7.7 7.7M351.95 434.8l7.7 -7.7M356 422.78l7.7 7.7M356 430.48l7.7 -7.7M360.04 417.98l7.7 7.7M360.04 425.68l7.7 -7.7M364.09 412.72l7.7 7.7M364.09 420.42l7.7 -7.7M368.13 407.03l7.7 7.7M368.13 414.73l7.7 -7.7M372.18 400.97l7.7 7.7M372.18 408.67l7.7 -7.7M376.22 394.62l7.7 7.7M376.22 402.32l7.7 -7.7M380.27 387.97l7.7 7.7M380.27 395.67l7.7 -7.7M384.31 380.98l7.7 7.7M384.31 388.68l7.7 -7.7M388.36 373.64l7.7 7.7M388.36 381.34l7.7 -7.7M392.4 365.91l7.7 7.7M392.4 373.61l7.7 -7.7M396.45 357.75l7.7 7.7M396.45 365.45l7.7 -7.7M400.49 349.1l7.7 7.7M400.49 356.8l7.7 -7.7M404.54 339.93l7.7 7.7M404.54 347.63l7.7 -7.7M408.59 330.16l7.7 7.7M408.59 337.86l7.7 -7.7M412.63 319.87l7.7 7.7M412.63 327.57l7.7 -7.7M416.68 309.72l7.7 7.7M416.68 317.42l7.7 -7.7M420.72 300.34l7.7 7.7M420.72 308.04l7.7 -7.7M424.77 292.02l7.7 7.7M424.77 299.72l7.7 -7.7M428.81 284.74l7.7 7.7M428.81 292.44l7.7 -7.7M432.86 278.99l7.7 7.7M432.86 286.69l7.7 -7.7M436.9 275.83l7.7 7.7M436.9 283.53l7.7 -7.7M438.92 275.14l7.7 7.7M438.92 282.84l7.7 -7.7M440.95 274.87l7.7 7.7M440.95 282.57l7.7 -7.7M442.97 274.96l7.7 7.7M442.97 282.66l7.7 -7.7M444.99 275.38l7.7 7.7M444.99 283.08l7.7 -7.7M447.01 276.15l7.7 7.7M447.01 283.85l7.7 -7.7M449.04 277.35l7.7 7.7M449.04 285.05l7.7 -7.7M453.08 281.45l7.7 7.7M453.08 289.15l7.7 -7.7M457.13 288.78l7.7 7.7M457.13 296.48l7.7 -7.7M461.17 299.8l7.7 7.7M461.17 307.5l7.7 -7.7M465.22 311.4l7.7 7.7M465.22 319.1l7.7 -7.7M469.26 322.89l7.7 7.7M469.26 330.59l7.7 -7.7M473.31 335.25l7.7 7.7M473.31 342.95l7.7 -7.7M477.35 348.24l7.7 7.7M477.35 355.94l7.7 -7.7M481.4 361.09l7.7 7.7M481.4 368.79l7.7 -7.7M485.44 373.15l7.7 7.7M485.44 380.85l7.7 -7.7M489.49 384.08l7.7 7.7M489.49 391.78l7.7 -7.7M493.53 393.86l7.7 7.7M493.53 401.56l7.7 -7.7M497.58 402.62l7.7 7.7M497.58 410.32l7.7 -7.7M501.62 410.5l7.7 7.7M501.62 418.2l7.7 -7.7M505.67 417.6l7.7 7.7M505.67 425.3l7.7 -7.7M509.72 424.02l7.7 7.7M509.72 431.72l7.7 -7.7M513.76 429.81l7.7 7.7M513.76 437.51l7.7 -7.7M517.81 435.06l7.7 7.7M517.81 442.76l7.7 -7.7M521.85 439.81l7.7 7.7M521.85 447.51l7.7 -7.7M525.9 444.1l7.7 7.7M525.9 451.8l7.7 -7.7M529.94 447.98l7.7 7.7M529.94 455.68l7.7 -7.7M533.99 451.47l7.7 7.7M533.99 459.17l7.7 -7.7M538.03 454.63l7.7 7.7M538.03 462.33l7.7 -7.7M542.08 457.5l7.7 7.7M542.08 465.2l7.7 -7.7M546.12 460.12l7.7 7.7M546.12 467.82l7.7 -7.7M550.17 462.53l7.7 7.7M550.17 470.23l7.7 -7.7M554.21 464.74l7.7 7.7M554.21 472.44l7.7 -7.7M558.26 466.79l7.7 7.7M558.26 474.49l7.7 -7.7M562.3 468.68l7.7 7.7M562.3 476.38l7.7 -7.7M566.35 470.43l7.7 7.7M566.35 478.13l7.7 -7.7M570.39 472.06l7.7 7.7M570.39 479.76l7.7 -7.7M574.44 473.58l7.7 7.7M574.44 481.28l7.7 -7.7M578.48 475l7.7 7.7M578.48 482.7l7.7 -7.7M582.53 476.32l7.7 7.7M582.53 484.02l7.7 -7.7M586.57 477.56l7.7 7.7M586.57 485.26l7.7 -7.7M590.62 478.72l7.7 7.7M590.62 486.42l7.7 -7.7M594.66 479.81l7.7 7.7M594.66 487.51l7.7 -7.7M598.71 480.84l7.7 7.7M598.71 488.54l7.7 -7.7M602.75 481.8l7.7 7.7M602.75 489.5l7.7 -7.7M606.8 482.71l7.7 7.7M606.8 490.41l7.7 -7.7M610.85 483.58l7.7 7.7M610.85 491.28l7.7 -7.7M614.89 484.39l7.7 7.7M614.89 492.09l7.7 -7.7M618.94 485.17l7.7 7.7M618.94 492.87l7.7 -7.7M622.98 485.9l7.7 7.7M622.98 493.6l7.7 -7.7M627.03 486.6l7.7 7.7M627.03 494.3l7.7 -7.7M631.07 487.27l7.7 7.7M631.07 494.97l7.7 -7.7M635.12 487.9l7.7 7.7M635.12 495.6l7.7 -7.7M639.16 488.49l7.7 7.7M639.16 496.19l7.7 -7.7M643.21 489.05l7.7 7.7M643.21 496.75l7.7 -7.7M647.25 489.58l7.7 7.7M647.25 497.28l7.7 -7.7M651.3 490.08l7.7 7.7M651.3 497.78l7.7 -7.7M655.34 490.55l7.7 7.7M655.34 498.25l7.7 -7.7M659.39 490.99l7.7 7.7M659.39 498.69l7.7 -7.7M663.43 491.4l7.7 7.7M663.43 499.1l7.7 -7.7M667.48 491.79l7.7 7.7M667.48 499.49l7.7 -7.7M671.52 492.16l7.7 7.7M671.52 499.86l7.7 -7.7M675.57 492.5l7.7 7.7M675.57 500.2l7.7 -7.7M679.61 492.82l7.7 7.7M679.61 500.52l7.7 -7.7M683.66 493.11l7.7 7.7M683.66 500.81l7.7 -7.7M687.7 493.39l7.7 7.7M687.7 501.09l7.7 -7.7M691.75 493.65l7.7 7.7M691.75 501.35l7.7 -7.7M695.79 493.9l7.7 7.7M695.79 501.6l7.7 -7.7M699.84 494.12l7.7 7.7M699.84 501.82l7.7 -7.7M703.88 494.34l7.7 7.7M703.88 502.04l7.7 -7.7M707.93 494.54l7.7 7.7M707.93 502.24l7.7 -7.7M711.98 494.73l7.7 7.7M711.98 502.43l7.7 -7.7M716.02 494.91l7.7 7.7M716.02 502.61l7.7 -7.7M720.07 495.07l7.7 7.7M720.07 502.77l7.7 -7.7M724.11 495.24l7.7 7.7M724.11 502.94l7.7 -7.7M728.16 495.39l7.7 7.7M728.16 503.09l7.7 -7.7M732.2 495.54l7.7 7.7M732.2 503.24l7.7 -7.7M736.25 495.69l7.7 7.7M736.25 503.39l7.7 -7.7M740.29 495.83l7.7 7.7M740.29 503.53l7.7 -7.7M744.34 495.97l7.7 7.7M744.34 503.67l7.7 -7.7M748.38 496.11l7.7 7.7M748.38 503.81l7.7 -7.7M752.43 496.25l7.7 7.7M752.43 503.95l7.7 -7.7M756.47 496.39l7.7 7.7M756.47 504.09l7.7 -7.7M760.52 496.54l7.7 7.7M760.52 504.24l7.7 -7.7M764.56 496.69l7.7 7.7M764.56 504.39l7.7 -7.7M768.61 496.85l7.7 7.7M768.61 504.55l7.7 -7.7M772.65 497.01l7.7 7.7M772.65 504.71l7.7 -7.7" fill="none" stroke="#0000ff" stroke-width="1.3"/>
<path d="M266.81 475.78v0.8M265.61 475.78h2.4M265.61 476.58h2.4M270.85 474.64v0.82M269.65 474.64h2.4M269.65 475.46h2.4M274.9 473.43v0.84M273.7 473.43h2.4M273.7 474.28h2.4M278.94 472.17v0.87M277.74 472.17h2.4M277.74 473.04h2.4M282.99 470.84v0.89M281.79 470.84h2.4M281.79 471.74h2.4M287.03 469.45v0.92M285.83 469.45h2.4M285.83 470.36h2.4M291.08 467.98v0.94M289.88 467.98h2.4M289.88 468.92h2.4M295.12 466.44v0.97M293.92 466.44h2.4M293.92 467.41h2.4M299.17 464.82v1M297.97 464.82h2.4M297.97 465.82h2.4M303.21 463.12v1.03M302.01 463.12h2.4M302.01 464.15h2.4M307.26 461.33v1.06M306.06 461.33h2.4M306.06 462.39h2.4M311.31 459.46v1.09M310.11 459.46h2.4M310.11 460.55h2.4M315.35 457.49v1.13M314.15 457.49h2.4M314.15 458.62h2.4M319.4 455.43v1.17M318.2 455.43h2.4M318.2 456.59h2.4M323.44 453.26v1.2M322.24 453.26h2.4M322.24 454.46h2.4M327.49 450.98v1.25M326.29 450.98h2.4M326.29 452.23h2.4M331.53 448.59v1.29M330.33 448.59h2.4M330.33 449.88h2.4M335.58 446.08v1.33M334.38 446.08h2.4M334.38 447.41h2.4M339.62 443.43v1.38M338.42 443.43h2.4M338.42 444.81h2.4M343.67 440.64v1.43M342.47 440.64h2.4M342.47 442.07h2.4M347.71 437.7v1.48M346.51 437.7h2.4M346.51 439.18h2.4M351.76 434.59v1.54M350.56 434.59h2.4M350.56 436.13h2.4M355.8 431.3v1.6M354.6 431.3h2.4M354.6 432.89h2.4M359.85 427.8v1.66M358.65 427.8h2.4M358.65 429.46h2.4M363.89 424.08v1.73M362.69 424.08h2.4M362.69 425.8h2.4M367.94 420.1v1.8M366.74 420.1h2.4M366.74 421.9h2.4M371.98 415.84v1.87M370.78 415.84h2.4M370.78 417.71h2.4M376.03 411.24v1.95M374.83 411.24h2.4M374.83 413.2h2.4M380.07 406.25v2.04M378.87 406.25h2.4M378.87 408.3h2.4M384.12 400.8v2.14M382.92 400.8h2.4M382.92 402.94h2.4M388.16 394.82v2.25M386.96 394.82h2.4M386.96 397.07h2.4M392.21 388.4v2.36M391.01 388.4h2.4M391.01 390.76h2.4M396.25 381.68v2.48M395.05 381.68h2.4M395.05 384.16h2.4M400.3 374.87v2.6M399.1 374.87h2.4M399.1 377.48h2.4M404.34 368.19v2.72M403.14 368.19h2.4M403.14 370.91h2.4M408.39 361.82v2.84M407.19 361.82h2.4M407.19 364.66h2.4M412.44 355.89v2.94M411.24 355.89h2.4M411.24 358.84h2.4M416.48 350.47v3.04M415.28 350.47h2.4M415.28 353.51h2.4M420.53 345.58v3.13M419.33 345.58h2.4M419.33 348.7h2.4M424.57 341.28v3.2M423.37 341.28h2.4M423.37 344.48h2.4M428.62 337.72v3.27M427.42 337.72h2.4M427.42 340.98h2.4M432.66 334.98v3.31M431.46 334.98h2.4M431.46 338.29h2.4M436.71 333.06v3.35M435.51 333.06h2.4M435.51 336.41h2.4M439.13 332.3v3.36M437.93 332.3h2.4M437.93 335.67h2.4M441.56 331.82v3.37M440.36 331.82h2.4M440.36 335.2h2.4M443.99 331.64v3.37M442.79 331.64h2.4M442.79 335.02h2.4M446.41 331.78v3.37M445.21 331.78h2.4M445.21 335.15h2.4M448.84 332.29v3.36M447.64 332.29h2.4M447.64 335.66h2.4M452.89 334.19v3.33M451.69 334.19h2.4M451.69 337.52h2.4M456.93 337.5v3.27M455.73 337.5h2.4M455.73 340.77h2.4M460.98 342.26v3.19M459.78 342.26h2.4M459.78 345.45h2.4M465.02 348.58v3.07M463.82 348.58h2.4M463.82 351.65h2.4M469.07 356.05v2.94M467.87 356.05h2.4M467.87 358.99h2.4M473.11 363.53v2.81M471.91 363.53h2.4M471.91 366.33h2.4M477.16 370.92v2.67M475.96 370.92h2.4M475.96 373.59h2.4M481.2 378.43v2.54M480 378.43h2.4M480 380.97h2.4M485.25 386.1v2.4M484.05 386.1h2.4M484.05 388.5h2.4M489.29 393.89v2.26M488.09 393.89h2.4M488.09 396.16h2.4M493.34 401.81v2.12M492.14 401.81h2.4M492.14 403.94h2.4M497.38 409.76v1.98M496.18 409.76h2.4M496.18 411.74h2.4M501.43 417.34v1.85M500.23 417.34h2.4M500.23 419.19h2.4M505.47 424.25v1.72M504.27 424.25h2.4M504.27 425.97h2.4M509.52 430.34v1.61M508.32 430.34h2.4M508.32 431.95h2.4M513.57 435.6v1.52M512.37 435.6h2.4M512.37 437.12h2.4M517.61 440.16v1.44M516.41 440.16h2.4M516.41 441.6h2.4M521.66 444.2v1.37M520.46 444.2h2.4M520.46 445.57h2.4M525.7 447.85v1.3M524.5 447.85h2.4M524.5 449.15h2.4M529.75 451.18v1.24M528.55 451.18h2.4M528.55 452.42h2.4M533.79 454.25v1.19M532.59 454.25h2.4M532.59 455.44h2.4M537.84 457.12v1.14M536.64 457.12h2.4M536.64 458.25h2.4M541.88 459.8v1.09M540.68 459.8h2.4M540.68 460.89h2.4M545.93 462.33v1.04M544.73 462.33h2.4M544.73 463.37h2.4M549.97 464.72v1M548.77 464.72h2.4M548.77 465.72h2.4M554.02 466.97v0.96M552.82 466.97h2.4M552.82 467.93h2.4M558.06 469.11v0.92M556.86 469.11h2.4M556.86 470.03h2.4M562.11 471.12v0.89M560.91 471.12h2.4M560.91 472.01h2.4M566.15 473.03v0.85M564.95 473.03h2.4M564.95 473.88h2.4M570.2 474.83v0.82M569 474.83h2.4M569 475.65h2.4" fill="none" stroke="#ff00ff" stroke-width="0.6"/>
<path d="M101 495.28h8v8h-8zM105.05 494.74h8v8h-8zM109.09 494.21h8v8h-8zM113.14 493.7h8v8h-8zM117.18 493.21h8v8h-8zM121.23 492.74h8v8h-8zM125.27 492.28h8v8h-8zM129.32 491.84h8v8h-8zM133.36 491.4h8v8h-8zM137.41 490.98h8v8h-8zM141.45 490.56h8v8h-8zM145.5 490.14h8v8h-8zM149.54 489.73h8v8h-8zM153.59 489.33h8v8h-8zM157.63 488.92h8v8h-8zM161.68 488.51h8v8h-8zM165.72 488.09h8v8h-8zM169.77 487.67h8v8h-8zM173.81 487.24h8v8h-8zM177.86 486.81h8v8h-8zM181.9 486.36h8v8h-8zM185.95 485.9h8v8h-8zM189.99 485.42h8v8h-8zM194.04 484.93h8v8h-8zM198.08 484.42h8v8h-8zM202.13 483.89h8v8h-8zM206.18 483.34h8v8h-8zM210.22 482.76h8v8h-8zM214.27 482.16h8v8h-8zM218.31 481.53h8v8h-8zM222.36 480.88h8v8h-8zM226.4 480.19h8v8h-8zM230.45 479.46h8v8h-8zM234.49 478.7h8v8h-8zM238.54 477.9h8v8h-8zM242.58 477.06h8v8h-8zM246.63 476.18h8v8h-8zM250.67 475.26h8v8h-8zM254.72 474.28h8v8h-8zM258.76 473.26h8v8h-8zM262.81 472.18h8v8h-8zM266.85 471.05h8v8h-8zM270.9 469.86h8v8h-8zM274.94 468.61h8v8h-8zM278.99 467.29h8v8h-8zM283.03 465.91h8v8h-8zM287.08 464.45h8v8h-8zM291.12 462.92h8v8h-8zM295.17 461.32h8v8h-8zM299.21 459.63h8v8h-8zM303.26 457.86h8v8h-8zM307.31 456.01h8v8h-8zM311.35 454.06h8v8h-8zM315.4 452.01h8v8h-8zM319.44 449.86h8v8h-8zM323.49 447.61h8v8h-8zM327.53 445.24h8v8h-8zM331.58 442.74h8v8h-8zM335.62 440.12h8v8h-8zM339.67 437.36h8v8h-8zM343.71 434.44h8v8h-8zM347.76 431.36h8v8h-8zM351.8 428.09h8v8h-8zM355.85 424.63h8v8h-8zM359.89 420.94h8v8h-8zM363.94 417h8v8h-8zM367.98 412.77h8v8h-8zM372.03 408.22h8v8h-8zM376.07 403.28h8v8h-8zM380.12 397.87h8v8h-8zM384.16 391.95h8v8h-8zM388.21 385.58h8v8h-8zM392.25 378.92h8v8h-8zM396.3 372.17h8v8h-8zM400.34 365.55h8v8h-8zM404.39 359.24h8v8h-8zM408.44 353.36h8v8h-8zM412.48 347.99h8v8h-8zM416.53 343.14h8v8h-8zM420.57 338.88h8v8h-8zM424.62 335.35h8v8h-8zM428.66 332.64h8v8h-8zM432.71 330.74h8v8h-8zM435.13 329.98h8v8h-8zM437.56 329.51h8v8h-8zM439.99 329.33h8v8h-8zM442.41 329.47h8v8h-8zM444.84 329.98h8v8h-8zM448.89 331.86h8v8h-8zM452.93 335.14h8v8h-8zM456.98 339.85h8v8h-8zM461.02 346.11h8v8h-8zM465.07 353.52h8v8h-8zM469.11 360.93h8v8h-8zM473.16 368.25h8v8h-8zM477.2 375.7h8v8h-8zM481.25 383.3h8v8h-8zM485.29 391.03h8v8h-8zM489.34 398.87h8v8h-8zM493.38 406.75h8v8h-8zM497.43 414.27h8v8h-8zM501.47 421.11h8v8h-8zM505.52 427.14h8v8h-8zM509.57 432.36h8v8h-8zM513.61 436.88h8v8h-8zM517.66 440.88h8v8h-8zM521.7 444.5h8v8h-8zM525.75 447.8h8v8h-8zM529.79 450.85h8v8h-8zM533.84 453.69h8v8h-8zM537.88 456.34h8v8h-8zM541.93 458.85h8v8h-8zM545.97 461.22h8v8h-8zM550.02 463.45h8v8h-8zM554.06 465.57h8v8h-8zM558.11 467.57h8v8h-8zM562.15 469.46h8v8h-8zM566.2 471.24h8v8h-8zM570.24 472.93h8v8h-8zM574.29 474.52h8v8h-8zM578.33 476.02h8v8h-8zM582.38 477.43h8v8h-8zM586.42 478.77h8v8h-8zM590.47 480.03h8v8h-8zM594.51 481.21h8v8h-8zM598.56 482.32h8v8h-8zM602.6 483.37h8v8h-8zM606.65 484.36h8v8h-8zM610.7 485.28h8v8h-8zM614.74 486.15h8v8h-8zM618.79 486.96h8v8h-8zM622.83 487.72h8v8h-8zM626.88 488.43h8v8h-8zM630.92 489.1h8v8h-8zM634.97 489.72h8v8h-8zM639.01 490.3h8v8h-8zM643.06 490.84h8v8h-8zM647.1 491.34h8v8h-8zM651.15 491.81h8v8h-8zM655.19 492.24h8v8h-8zM659.24 492.64h8v8h-8zM663.28 493.02h8v8h-8zM667.33 493.36h8v8h-8zM671.37 493.68h8v8h-8zM675.42 493.98h8v8h-8zM679.46 494.26h8v8h-8zM683.51 494.51h8v8h-8zM687.55 494.75h8v8h-8zM691.6 494.97h8v8h-8zM695.64 495.18h8v8h-8zM699.69 495.38h8v8h-8zM703.73 495.56h8v8h-8zM707.78 495.74h8v8h-8zM711.83 495.9h8v8h-8zM715.87 496.06h8v8h-8zM719.92 496.22h8v8h-8zM723.96 496.38h8v8h-8zM728.01 496.53h8v8h-8zM732.05 496.69h8v8h-8zM736.1 496.85h8v8h-8zM740.14 497.02h8v8h-8zM744.19 497.19h8v8h-8zM748.23 497.37h8v8h-8zM752.28 497.56h8v8h-8zM756.32 497.76h8v8h-8zM760.37 497.98h8v8h-8zM764.41 498.22h8v8h-8zM768.46 498.47h8v8h-8zM772.5 498.75h8v8h-8z" fill="none" stroke="#ff00ff" stroke-width="1.0"/>
<path d="M101.05 494.67h7.9v7.9h-7.9zM107.79 493.99h7.9v7.9h-7.9zM114.53 493.31h7.9v7.9h-7.9zM121.28 492.65h7.9v7.9h-7.9zM128.02 491.99h7.9v7.9h-7.9zM134.76 491.33h7.9v7.9h-7.9zM141.5 490.66h7.9v7.9h-7.9zM148.24 489.98h7.9v7.9h-7.9zM154.99 489.28h7.9v7.9h-7.9zM161.73 488.55h7.9v7.9h-7.9zM168.47 487.8h7.9v7.9h-7.9zM175.21 487.01h7.9v7.9h-7.9zM181.95 486.19h7.9v7.9h-7.9zM188.7 485.31h7.9v7.9h-7.9zM195.44 484.39h7.9v7.9h-7.9zM202.18 483.41h7.9v7.9h-7.9zM208.92 482.37h7.9v7.9h-7.9zM215.66 481.26h7.9v7.9h-7.9zM222.41 480.08h7.9v7.9h-7.9zM229.15 478.82h7.9v7.9h-7.9zM235.89 477.48h7.9v7.9h-7.9zM242.63 476.04h7.9v7.9h-7.9zM249.37 474.51h7.9v7.9h-7.9zM256.12 472.87h7.9v7.9h-7.9zM262.86 471.12h7.9v7.9h-7.9zM269.6 469.25h7.9v7.9h-7.9zM276.34 467.27h7.9v7.9h-7.9zM283.08 465.15h7.9v7.9h-7.9zM289.83 462.89h7.9v7.9h-7.9zM296.57 460.46h7.9v7.9h-7.9zM303.31 457.86h7.9v7.9h-7.9zM310.05 455.07h7.9v7.9h-7.9zM316.79 452.06h7.9v7.9h-7.9zM323.54 448.79h7.9v7.9h-7.9zM330.28 445.26h7.9v7.9h-7.9zM337.02 441.4h7.9v7.9h-7.9zM343.76 437.17h7.9v7.9h-7.9zM350.5 432.52h7.9v7.9h-7.9zM357.25 427.43h7.9v7.9h-7.9zM363.99 422h7.9v7.9h-7.9zM370.73 416.33h7.9v7.9h-7.9zM377.47 410.58h7.9v7.9h-7.9zM384.21 404.91h7.9v7.9h-7.9zM390.96 399.44h7.9v7.9h-7.9zM397.7 394.29h7.9v7.9h-7.9zM404.44 389.54h7.9v7.9h-7.9zM411.18 385.31h7.9v7.9h-7.9zM417.92 381.8h7.9v7.9h-7.9zM424.67 379.22h7.9v7.9h-7.9zM431.41 377.78h7.9v7.9h-7.9zM438.15 377.69h7.9v7.9h-7.9zM444.89 379.14h7.9v7.9h-7.9zM451.63 382h7.9v7.9h-7.9zM458.38 386.14h7.9v7.9h-7.9zM465.12 391.53h7.9v7.9h-7.9zM471.86 398.1h7.9v7.9h-7.9zM478.6 405.61h7.9v7.9h-7.9zM485.34 413.56h7.9v7.9h-7.9zM492.09 421.37h7.9v7.9h-7.9zM498.83 428.8h7.9v7.9h-7.9zM505.57 435.75h7.9v7.9h-7.9zM512.31 442.18h7.9v7.9h-7.9zM519.05 448.07h7.9v7.9h-7.9zM525.8 453.45h7.9v7.9h-7.9zM532.54 458.36h7.9v7.9h-7.9zM539.28 462.83h7.9v7.9h-7.9zM546.02 466.87h7.9v7.9h-7.9zM552.76 470.5h7.9v7.9h-7.9zM559.51 473.73h7.9v7.9h-7.9zM566.25 476.56h7.9v7.9h-7.9zM572.99 479.01h7.9v7.9h-7.9zM579.73 481.13h7.9v7.9h-7.9zM586.47 482.96h7.9v7.9h-7.9zM593.22 484.54h7.9v7.9h-7.9zM599.96 485.9h7.9v7.9h-7.9zM606.7 487.08h7.9v7.9h-7.9zM613.44 488.11h7.9v7.9h-7.9zM620.18 489h7.9v7.9h-7.9zM626.93 489.8h7.9v7.9h-7.9zM633.67 490.52h7.9v7.9h-7.9zM640.41 491.18h7.9v7.9h-7.9zM647.15 491.82h7.9v7.9h-7.9zM653.89 492.44h7.9v7.9h-7.9zM660.64 493.05h7.9v7.9h-7.9zM667.38 493.63h7.9v7.9h-7.9zM674.12 494.2h7.9v7.9h-7.9zM680.86 494.74h7.9v7.9h-7.9zM687.6 495.26h7.9v7.9h-7.9zM694.35 495.75h7.9v7.9h-7.9zM701.09 496.22h7.9v7.9h-7.9zM707.83 496.66h7.9v7.9h-7.9zM714.57 497.07h7.9v7.9h-7.9zM721.31 497.44h7.9v7.9h-7.9zM728.06 497.79h7.9v7.9h-7.9zM734.8 498.1h7.9v7.9h-7.9zM741.54 498.38h7.9v7.9h-7.9zM748.28 498.63h7.9v7.9h-7.9zM755.02 498.83h7.9v7.9h-7.9zM761.77 499h7.9v7.9h-7.9zM768.51 499.13h7.9v7.9h-7.9zM775.25 499.22h7.9v7.9h-7.9z" fill="#00ffff" stroke="none"/>
<path d="M228.78 483.08v0.82M227.38 483.08h2.8M227.38 483.9h2.8M236.87 481.56v0.85M235.47 481.56h2.8M235.47 482.42h2.8M244.96 479.94v0.89M243.56 479.94h2.8M243.56 480.83h2.8M253.05 478.19v0.93M251.65 478.19h2.8M251.65 479.12h2.8M261.14 476.32v0.97M259.74 476.32h2.8M259.74 477.29h2.8M269.24 474.31v1.01M267.84 474.31h2.8M267.84 475.32h2.8M277.33 472.14v1.06M275.93 472.14h2.8M275.93 473.2h2.8M285.42 469.82v1.11M284.02 469.82h2.8M284.02 470.93h2.8M293.51 467.33v1.16M292.11 467.33h2.8M292.11 468.49h2.8M301.6 464.65v1.22M300.2 464.65h2.8M300.2 465.87h2.8M309.69 461.77v1.28M308.29 461.77h2.8M308.29 463.06h2.8M317.78 458.69v1.35M316.38 458.69h2.8M316.38 460.04h2.8M325.87 455.38v1.42M324.47 455.38h2.8M324.47 456.8h2.8M333.96 451.83v1.5M332.56 451.83h2.8M332.56 453.33h2.8M342.05 448.02v1.58M340.65 448.02h2.8M340.65 449.6h2.8M350.14 443.96v1.67M348.74 443.96h2.8M348.74 445.64h2.8M358.23 439.79v1.76M356.83 439.79h2.8M356.83 441.56h2.8M366.32 435.67v1.85M364.92 435.67h2.8M364.92 437.52h2.8M374.41 431.74v1.94M373.01 431.74h2.8M373.01 433.68h2.8M382.5 428.17v2.02M381.1 428.17h2.8M381.1 430.18h2.8M390.59 425.08v2.08M389.19 425.08h2.8M389.19 427.17h2.8M398.68 422.6v2.14M397.28 422.6h2.8M397.28 424.73h2.8M406.77 420.78v2.18M405.37 420.78h2.8M405.37 422.96h2.8M414.86 419.64v2.2M413.46 419.64h2.8M413.46 421.84h2.8M422.95 419.18v2.21M421.55 419.18h2.8M421.55 421.39h2.8M431.04 419.4v2.21M429.64 419.4h2.8M429.64 421.6h2.8M439.13 420.35v2.19M437.73 420.35h2.8M437.73 422.53h2.8M447.22 422.08v2.15M445.82 422.08h2.8M445.82 424.23h2.8M455.31 424.7v2.09M453.91 424.7h2.8M453.91 426.79h2.8M463.4 428.24v2.01M462 428.24h2.8M462 430.26h2.8M471.5 432.55v1.92M470.1 432.55h2.8M470.1 434.47h2.8M479.59 437.35v1.82M478.19 437.35h2.8M478.19 439.17h2.8M487.68 442.44v1.71M486.28 442.44h2.8M486.28 444.15h2.8M495.77 447.6v1.59M494.37 447.6h2.8M494.37 449.2h2.8M503.86 452.66v1.48M502.46 452.66h2.8M502.46 454.14h2.8M511.95 457.47v1.38M510.55 457.47h2.8M510.55 458.85h2.8M520.04 461.91v1.28M518.64 461.91h2.8M518.64 463.2h2.8M528.13 466.01v1.19M526.73 466.01h2.8M526.73 467.2h2.8M536.22 469.77v1.11M534.82 469.77h2.8M534.82 470.88h2.8M544.31 473.24v1.04M542.91 473.24h2.8M542.91 474.27h2.8M552.4 476.41v0.97M551 476.41h2.8M551 477.38h2.8M560.49 479.32v0.9M559.09 479.32h2.8M559.09 480.22h2.8M568.58 481.96v0.85M567.18 481.96h2.8M567.18 482.81h2.8" fill="none" stroke="#ffff00" stroke-width="0.6"/>
<path d="M103.88 498.38a3.55 3.55 0 1 0 7.1 0a3.55 3.55 0 1 0 -7.1 0M111.97 497.57a3.55 3.55 0 1 0 7.1 0a3.55 3.55 0 1 0 -7.1 0M120.06 496.76a3.55 3.55 0 1 0 7.1 0a3.55 3.55 0 1 0 -7.1 0M128.15 495.95a3.55 3.55 0 1 0 7.1 0a3.55 3.55 0 1 0 -7.1 0M136.24 495.14a3.55 3.55 0 1 0 7.1 0a3.55 3.55 0 1 0 -7.1 0M144.33 494.3a3.55 3.55 0 1 0 7.1 0a3.55 3.55 0 1 0 -7.1 0M152.42 493.45a3.55 3.55 0 1 0 7.1 0a3.55 3.55 0 1 0 -7.1 0M160.51 492.56a3.55 3.55 0 1 0 7.1 0a3.55 3.55 0 1 0 -7.1 0M168.6 491.64a3.55 3.55 0 1 0 7.1 0a3.55 3.55 0 1 0 -7.1 0M176.69 490.67a3.55 3.55 0 1 0 7.1 0a3.55 3.55 0 1 0 -7.1 0M184.78 489.65a3.55 3.55 0 1 0 7.1 0a3.55 3.55 0 1 0 -7.1 0M192.87 488.57a3.55 3.55 0 1 0 7.1 0a3.55 3.55 0 1 0 -7.1 0M200.96 487.42a3.55 3.55 0 1 0 7.1 0a3.55 3.55 0 1 0 -7.1 0M209.05 486.2a3.55 3.55 0 1 0 7.1 0a3.55 3.55 0 1 0 -7.1 0M217.14 484.89a3.55 3.55 0 1 0 7.1 0a3.55 3.55 0 1 0 -7.1 0M225.23 483.49a3.55 3.55 0 1 0 7.1 0a3.55 3.55 0 1 0 -7.1 0M233.32 481.99a3.55 3.55 0 1 0 7.1 0a3.55 3.55 0 1 0 -7.1 0M241.41 480.38a3.55 3.55 0 1 0 7.1 0a3.55 3.55 0 1 0 -7.1 0M249.5 478.66a3.55 3.55 0 1 0 7.1 0a3.55 3.55 0 1 0 -7.1 0M257.59 476.8a3.55 3.55 0 1 0 7.1 0a3.55 3.55 0 1 0 -7.1 0M265.69 474.81a3.55 3.55 0 1 0 7.1 0a3.55 3.55 0 1 0 -7.1 0M273.78 472.67a3.55 3.55 0 1 0 7.1 0a3.55 3.55 0 1 0 -7.1 0M281.87 470.38a3.55 3.55 0 1 0 7.1 0a3.55 3.55 0 1 0 -7.1 0M289.96 467.91a3.55 3.55 0 1 0 7.1 0a3.55 3.55 0 1 0 -7.1 0M298.05 465.26a3.55 3.55 0 1 0 7.1 0a3.55 3.55 0 1 0 -7.1 0M306.14 462.42a3.55 3.55 0 1 0 7.1 0a3.55 3.55 0 1 0 -7.1 0M314.23 459.36a3.55 3.55 0 1 0 7.1 0a3.55 3.55 0 1 0 -7.1 0M322.32 456.09a3.55 3.55 0 1 0 7.1 0a3.55 3.55 0 1 0 -7.1 0M330.41 452.58a3.55 3.55 0 1 0 7.1 0a3.55 3.55 0 1 0 -7.1 0M338.5 448.81a3.55 3.55 0 1 0 7.1 0a3.55 3.55 0 1 0 -7.1 0M346.59 444.8a3.55 3.55 0 1 0 7.1 0a3.55 3.55 0 1 0 -7.1 0M354.68 440.67a3.55 3.55 0 1 0 7.1 0a3.55 3.55 0 1 0 -7.1 0M362.77 436.59a3.55 3.55 0 1 0 7.1 0a3.55 3.55 0 1 0 -7.1 0M370.86 432.71a3.55 3.55 0 1 0 7.1 0a3.55 3.55 0 1 0 -7.1 0M378.95 429.18a3.55 3.55 0 1 0 7.1 0a3.55 3.55 0 1 0 -7.1 0M387.04 426.12a3.55 3.55 0 1 0 7.1 0a3.55 3.55 0 1 0 -7.1 0M395.13 423.67a3.55 3.55 0 1 0 7.1 0a3.55 3.55 0 1 0 -7.1 0M403.22 421.87a3.55 3.55 0 1 0 7.1 0a3.55 3.55 0 1 0 -7.1 0M411.31 420.74a3.55 3.55 0 1 0 7.1 0a3.55 3.55 0 1 0 -7.1 0M419.4 420.28a3.55 3.55 0 1 0 7.1 0a3.55 3.55 0 1 0 -7.1 0M427.49 420.5a3.55 3.55 0 1 0 7.1 0a3.55 3.55 0 1 0 -7.1 0M435.58 421.44a3.55 3.55 0 1 0 7.1 0a3.55 3.55 0 1 0 -7.1 0M443.67 423.16a3.55 3.55 0 1 0 7.1 0a3.55 3.55 0 1 0 -7.1 0M451.76 425.74a3.55 3.55 0 1 0 7.1 0a3.55 3.55 0 1 0 -7.1 0M459.85 429.25a3.55 3.55 0 1 0 7.1 0a3.55 3.55 0 1 0 -7.1 0M467.95 433.51a3.55 3.55 0 1 0 7.1 0a3.55 3.55 0 1 0 -7.1 0M476.04 438.26a3.55 3.55 0 1 0 7.1 0a3.55 3.55 0 1 0 -7.1 0M484.13 443.3a3.55 3.55 0 1 0 7.1 0a3.55 3.55 0 1 0 -7.1 0M492.22 448.4a3.55 3.55 0 1 0 7.1 0a3.55 3.55 0 1 0 -7.1 0M500.31 453.4a3.55 3.55 0 1 0 7.1 0a3.55 3.55 0 1 0 -7.1 0M508.4 458.16a3.55 3.55 0 1 0 7.1 0a3.55 3.55 0 1 0 -7.1 0M516.49 462.55a3.55 3.55 0 1 0 7.1 0a3.55 3.55 0 1 0 -7.1 0M524.58 466.6a3.55 3.55 0 1 0 7.1 0a3.55 3.55 0 1 0 -7.1 0M532.67 470.33a3.55 3.55 0 1 0 7.1 0a3.55 3.55 0 1 0 -7.1 0M540.76 473.75a3.55 3.55 0 1 0 7.1 0a3.55 3.55 0 1 0 -7.1 0M548.85 476.9a3.55 3.55 0 1 0 7.1 0a3.55 3.55 0 1 0 -7.1 0M556.94 479.77a3.55 3.55 0 1 0 7.1 0a3.55 3.55 0 1 0 -7.1 0M565.03 482.39a3.55 3.55 0 1 0 7.1 0a3.55 3.55 0 1 0 -7.1 0M573.12 484.76a3.55 3.55 0 1 0 7.1 0a3.55 3.55 0 1 0 -7.1 0M581.21 486.9a3.55 3.55 0 1 0 7.1 0a3.55 3.55 0 1 0 -7.1 0M589.3 488.82a3.55 3.55 0 1 0 7.1 0a3.55 3.55 0 1 0 -7.1 0M597.39 490.55a3.55 3.55 0 1 0 7.1 0a3.55 3.55 0 1 0 -7.1 0M605.48 492.1a3.55 3.55 0 1 0 7.1 0a3.55 3.55 0 1 0 -7.1 0M613.57 493.48a3.55 3.55 0 1 0 7.1 0a3.55 3.55 0 1 0 -7.1 0M621.66 494.7a3.55 3.55 0 1 0 7.1 0a3.55 3.55 0 1 0 -7.1 0M629.75 495.79a3.55 3.55 0 1 0 7.1 0a3.55 3.55 0 1 0 -7.1 0M637.84 496.74a3.55 3.55 0 1 0 7.1 0a3.55 3.55 0 1 0 -7.1 0M645.93 497.58a3.55 3.55 0 1 0 7.1 0a3.55 3.55 0 1 0 -7.1 0M654.02 498.32a3.55 3.55 0 1 0 7.1 0a3.55 3.55 0 1 0 -7.1 0M662.11 498.97a3.55 3.55 0 1 0 7.1 0a3.55 3.55 0 1 0 -7.1 0M670.21 499.53a3.55 3.55 0 1 0 7.1 0a3.55 3.55 0 1 0 -7.1 0M678.3 500.03a3.55 3.55 0 1 0 7.1 0a3.55 3.55 0 1 0 -7.1 0M686.39 500.47a3.55 3.55 0 1 0 7.1 0a3.55 3.55 0 1 0 -7.1 0M694.48 500.86a3.55 3.55 0 1 0 7.1 0a3.55 3.55 0 1 0 -7.1 0M702.57 501.22a3.55 3.55 0 1 0 7.1 0a3.55 3.55 0 1 0 -7.1 0M710.66 501.55a3.55 3.55 0 1 0 7.1 0a3.55 3.55 0 1 0 -7.1 0M718.75 501.87a3.55 3.55 0 1 0 7.1 0a3.55 3.55 0 1 0 -7.1 0M726.84 502.18a3.55 3.55 0 1 0 7.1 0a3.55 3.55 0 1 0 -7.1 0M734.93 502.5a3.55 3.55 0 1 0 7.1 0a3.55 3.55 0 1 0 -7.1 0M743.02 502.85a3.55 3.55 0 1 0 7.1 0a3.55 3.55 0 1 0 -7.1 0M751.11 503.22a3.55 3.55 0 1 0 7.1 0a3.55 3.55 0 1 0 -7.1 0M759.2 503.63a3.55 3.55 0 1 0 7.1 0a3.55 3.55 0 1 0 -7.1 0M767.29 504.09a3.55 3.55 0 1 0 7.1 0a3.55 3.55 0 1 0 -7.1 0M775.38 504.62a3.55 3.55 0 1 0 7.1 0a3.55 3.55 0 1 0 -7.1 0" fill="none" stroke="#ffff00" stroke-width="1.15"/>
<path d="M101.3 497.33a3.7 3.7 0 1 0 7.4 0a3.7 3.7 0 1 0 -7.4 0zM114.78 496.31a3.7 3.7 0 1 0 7.4 0a3.7 3.7 0 1 0 -7.4 0zM128.27 495.11a3.7 3.7 0 1 0 7.4 0a3.7 3.7 0 1 0 -7.4 0zM141.75 493.75a3.7 3.7 0 1 0 7.4 0a3.7 3.7 0 1 0 -7.4 0zM155.24 492.21a3.7 3.7 0 1 0 7.4 0a3.7 3.7 0 1 0 -7.4 0zM168.72 490.5a3.7 3.7 0 1 0 7.4 0a3.7 3.7 0 1 0 -7.4 0zM182.2 488.61a3.7 3.7 0 1 0 7.4 0a3.7 3.7 0 1 0 -7.4 0zM195.69 486.56a3.7 3.7 0 1 0 7.4 0a3.7 3.7 0 1 0 -7.4 0zM209.17 484.32a3.7 3.7 0 1 0 7.4 0a3.7 3.7 0 1 0 -7.4 0zM222.66 481.92a3.7 3.7 0 1 0 7.4 0a3.7 3.7 0 1 0 -7.4 0zM236.14 479.34a3.7 3.7 0 1 0 7.4 0a3.7 3.7 0 1 0 -7.4 0zM249.62 476.59a3.7 3.7 0 1 0 7.4 0a3.7 3.7 0 1 0 -7.4 0zM263.11 473.67a3.7 3.7 0 1 0 7.4 0a3.7 3.7 0 1 0 -7.4 0zM276.59 470.58a3.7 3.7 0 1 0 7.4 0a3.7 3.7 0 1 0 -7.4 0zM290.08 467.34a3.7 3.7 0 1 0 7.4 0a3.7 3.7 0 1 0 -7.4 0zM303.56 464.11a3.7 3.7 0 1 0 7.4 0a3.7 3.7 0 1 0 -7.4 0zM317.04 461.03a3.7 3.7 0 1 0 7.4 0a3.7 3.7 0 1 0 -7.4 0zM330.53 458.28a3.7 3.7 0 1 0 7.4 0a3.7 3.7 0 1 0 -7.4 0zM344.01 456a3.7 3.7 0 1 0 7.4 0a3.7 3.7 0 1 0 -7.4 0zM357.5 454.36a3.7 3.7 0 1 0 7.4 0a3.7 3.7 0 1 0 -7.4 0zM370.98 453.46a3.7 3.7 0 1 0 7.4 0a3.7 3.7 0 1 0 -7.4 0zM384.46 453.31a3.7 3.7 0 1 0 7.4 0a3.7 3.7 0 1 0 -7.4 0zM397.95 453.88a3.7 3.7 0 1 0 7.4 0a3.7 3.7 0 1 0 -7.4 0zM411.43 455.15a3.7 3.7 0 1 0 7.4 0a3.7 3.7 0 1 0 -7.4 0zM424.92 457.09a3.7 3.7 0 1 0 7.4 0a3.7 3.7 0 1 0 -7.4 0zM438.4 459.7a3.7 3.7 0 1 0 7.4 0a3.7 3.7 0 1 0 -7.4 0zM451.88 462.94a3.7 3.7 0 1 0 7.4 0a3.7 3.7 0 1 0 -7.4 0zM465.37 466.67a3.7 3.7 0 1 0 7.4 0a3.7 3.7 0 1 0 -7.4 0zM478.85 470.69a3.7 3.7 0 1 0 7.4 0a3.7 3.7 0 1 0 -7.4 0zM492.34 474.81a3.7 3.7 0 1 0 7.4 0a3.7 3.7 0 1 0 -7.4 0zM505.82 478.85a3.7 3.7 0 1 0 7.4 0a3.7 3.7 0 1 0 -7.4 0zM519.3 482.69a3.7 3.7 0 1 0 7.4 0a3.7 3.7 0 1 0 -7.4 0zM532.79 486.21a3.7 3.7 0 1 0 7.4 0a3.7 3.7 0 1 0 -7.4 0zM546.27 489.32a3.7 3.7 0 1 0 7.4 0a3.7 3.7 0 1 0 -7.4 0zM559.76 492.04a3.7 3.7 0 1 0 7.4 0a3.7 3.7 0 1 0 -7.4 0zM573.24 494.41a3.7 3.7 0 1 0 7.4 0a3.7 3.7 0 1 0 -7.4 0zM586.72 496.48a3.7 3.7 0 1 0 7.4 0a3.7 3.7 0 1 0 -7.4 0zM600.21 498.28a3.7 3.7 0 1 0 7.4 0a3.7 3.7 0 1 0 -7.4 0zM613.69 499.84a3.7 3.7 0 1 0 7.4 0a3.7 3.7 0 1 0 -7.4 0zM627.18 501.19a3.7 3.7 0 1 0 7.4 0a3.7 3.7 0 1 0 -7.4 0zM640.66 502.36a3.7 3.7 0 1 0 7.4 0a3.7 3.7 0 1 0 -7.4 0zM654.14 503.38a3.7 3.7 0 1 0 7.4 0a3.7 3.7 0 1 0 -7.4 0zM667.63 504.25a3.7 3.7 0 1 0 7.4 0a3.7 3.7 0 1 0 -7.4 0zM681.11 505.01a3.7 3.7 0 1 0 7.4 0a3.7 3.7 0 1 0 -7.4 0zM694.6 505.66a3.7 3.7 0 1 0 7.4 0a3.7 3.7 0 1 0 -7.4 0zM708.08 506.24a3.7 3.7 0 1 0 7.4 0a3.7 3.7 0 1 0 -7.4 0zM721.56 506.76a3.7 3.7 0 1 0 7.4 0a3.7 3.7 0 1 0 -7.4 0zM735.05 507.24a3.7 3.7 0 1 0 7.4 0a3.7 3.7 0 1 0 -7.4 0zM748.53 507.69a3.7 3.7 0 1 0 7.4 0a3.7 3.7 0 1 0 -7.4 0zM762.02 508.15a3.7 3.7 0 1 0 7.4 0a3.7 3.7 0 1 0 -7.4 0zM775.5 508.62a3.7 3.7 0 1 0 7.4 0a3.7 3.7 0 1 0 -7.4 0z" fill="#000000" stroke="none"/>
<path d="M105 490.87v2.3M103 490.87h4M103 493.17h4M131.97 487.72v2.54M129.97 487.72h4M129.97 490.27h4M158.94 484.6v2.78M156.94 484.6h4M156.94 487.39h4M185.9 481.76v3M183.9 481.76h4M183.9 484.76h4M212.87 479.43v3.18M210.87 479.43h4M210.87 482.61h4M239.84 477.83v3.31M237.84 477.83h4M237.84 481.13h4M266.81 477.07v3.36M264.81 477.07h4M264.81 480.43h4M293.78 477.24v3.35M291.78 477.24h4M291.78 480.59h4M320.74 478.39v3.26M318.74 478.39h4M318.74 481.65h4M347.71 480.38v3.11M345.71 480.38h4M345.71 483.49h4M374.68 483.06v2.9M372.68 483.06h4M372.68 485.97h4M401.65 486.24v2.66M399.65 486.24h4M399.65 488.89h4M428.62 489.63v2.4M426.62 489.63h4M426.62 492.03h4M455.58 492.96v2.14M453.58 492.96h4M453.58 495.11h4M482.55 496v1.91M480.55 496h4M480.55 497.9h4M509.52 498.69v1.7M507.52 498.69h4M507.52 500.39h4M536.49 501.07v1.52M534.49 501.07h4M534.49 502.59h4M563.46 503.13v1.36M561.46 503.13h4M561.46 504.49h4M590.42 504.9v1.22M588.42 504.9h4M588.42 506.12h4M617.39 506.38v1.11M615.39 506.38h4M615.39 507.49h4M644.36 507.58v1.02M642.36 507.58h4M642.36 508.6h4M671.33 508.53v0.94M669.33 508.53h4M669.33 509.47h4M698.3 509.23v0.89M696.3 509.23h4M696.3 510.12h4M725.26 509.69v0.85M723.26 509.69h4M723.26 510.54h4M752.23 509.92v0.84M750.23 509.92h4M750.23 510.76h4M779.2 509.94v0.84M777.2 509.94h4M777.2 510.77h4" fill="none" stroke="#ff4d00" stroke-width="0.6"/>
<path d="M105 488.42l3.6 5.8h-7.2zM131.97 485.39l3.6 5.8h-7.2zM158.94 482.4l3.6 5.8h-7.2zM185.9 479.66l3.6 5.8h-7.2zM212.87 477.42l3.6 5.8h-7.2zM239.84 475.88l3.6 5.8h-7.2zM266.81 475.15l3.6 5.8h-7.2zM293.78 475.31l3.6 5.8h-7.2zM320.74 476.42l3.6 5.8h-7.2zM347.71 478.34l3.6 5.8h-7.2zM374.68 480.92l3.6 5.8h-7.2zM401.65 483.97l3.6 5.8h-7.2zM428.62 487.23l3.6 5.8h-7.2zM455.58 490.43l3.6 5.8h-7.2zM482.55 493.35l3.6 5.8h-7.2zM509.52 495.94l3.6 5.8h-7.2zM536.49 498.23l3.6 5.8h-7.2zM563.46 500.21l3.6 5.8h-7.2zM590.42 501.91l3.6 5.8h-7.2zM617.39 503.33l3.6 5.8h-7.2zM644.36 504.49l3.6 5.8h-7.2zM671.33 505.4l3.6 5.8h-7.2zM698.3 506.07l3.6 5.8h-7.2zM725.26 506.51l3.6 5.8h-7.2zM752.23 506.74l3.6 5.8h-7.2zM779.2 506.76l3.6 5.8h-7.2z" fill="none" stroke="#ff4d00" stroke-width="1.0"/>
<path d="M212.5 58H292.5" fill="none" stroke="#ff0000" stroke-width="1.4" stroke-opacity="0.55"/>
<path d="M212.5 54v8M292.5 54v8" fill="none" stroke="#ff0000" stroke-width="1.2" stroke-opacity="0.55"/>
<path d="M248.5 58h8M252.5 54v8" fill="none" stroke="#ff0000" stroke-width="1.0"/>
<text transform="translate(127.04 68.3) scale(1 1.053)">L</text><path d="M145.07 57.35h14.4v2.2h-14.4zM145.07 62.75h14.4v2.2h-14.4z" fill="#000"/><text transform="translate(161.24 68.3) scale(1 1.053)">22</text>
<path d="M212.5 87.9H292.5" fill="none" stroke="#00ff00" stroke-width="1.4" stroke-opacity="0.55" stroke-dasharray="4.4 2.5"/>
<path d="M212.5 83.9v8M292.5 83.9v8" fill="none" stroke="#00ff00" stroke-width="1.2" stroke-opacity="0.55" stroke-dasharray="4.4 2.5"/>
<path d="M248.65 84.05l7.7 7.7M248.65 91.75l7.7 -7.7" fill="none" stroke="#00ff00" stroke-width="1.2"/>
<text transform="translate(127.04 98.2) scale(1 1.053)">L</text><path d="M145.07 87.25h14.4v2.2h-14.4zM145.07 92.65h14.4v2.2h-14.4z" fill="#000"/><path d="M171.74 98.2H168.89V82.6H164.19V80.4C167.24 80.2 168.94 79 170.04 76H171.74Z" fill="#000"/><text transform="translate(177.92 98.2) scale(1 1.053)">8</text>
<path d="M212.5 117.8H292.5" fill="none" stroke="#0000ff" stroke-width="1.4" stroke-opacity="0.55" stroke-dasharray="2.2 3.6"/>
<path d="M212.5 113.8v8M292.5 113.8v8" fill="none" stroke="#0000ff" stroke-width="1.2" stroke-opacity="0.55" stroke-dasharray="2.2 3.6"/>
<path d="M248.7 117.8h7.6M252.5 114v7.6" fill="none" stroke="#0000ff" stroke-width="1"/>
<path d="M248.65 113.95l7.7 7.7M248.65 121.65l7.7 -7.7" fill="none" stroke="#0000ff" stroke-width="1.3"/>
<text transform="translate(127.04 128.1) scale(1 1.053)">L</text><path d="M145.07 117.15h14.4v2.2h-14.4zM145.07 122.55h14.4v2.2h-14.4z" fill="#000"/><path d="M171.74 128.1H168.89V112.5H164.19V110.3C167.24 110.1 168.94 108.9 170.04 105.9H171.74Z" fill="#000"/><text transform="translate(177.92 128.1) scale(1 1.053)">6</text>
<path d="M212.5 147.7H292.5" fill="none" stroke="#ff00ff" stroke-width="1.4" stroke-opacity="0.55" stroke-dasharray="1 2"/>
<path d="M212.5 143.7v8M292.5 143.7v8" fill="none" stroke="#ff00ff" stroke-width="1.2" stroke-opacity="0.55" stroke-dasharray="1 2"/>
<path d="M248.5 143.7h8v8h-8z" fill="none" stroke="#ff00ff" stroke-width="1.0"/>
<text transform="translate(127.04 158) scale(1 1.053)">L</text><path d="M145.07 147.05h14.4v2.2h-14.4zM145.07 152.45h14.4v2.2h-14.4z" fill="#000"/><path d="M171.74 158H168.89V142.4H164.19V140.2C167.24 140 168.94 138.8 170.04 135.8H171.74Z" fill="#000"/><text transform="translate(177.92 158) scale(1 1.053)">4</text>
<path d="M212.5 177.6H292.5" fill="none" stroke="#00ffff" stroke-width="1.4" stroke-opacity="0.55" stroke-dasharray="5.5 2.4 1.2 2.4"/>
<path d="M212.5 173.6v8M292.5 173.6v8" fill="none" stroke="#00ffff" stroke-width="1.2" stroke-opacity="0.55" stroke-dasharray="5.5 2.4 1.2 2.4"/>
<path d="M248.55 173.65h7.9v7.9h-7.9z" fill="#00ffff"/>
<text transform="translate(127.04 187.9) scale(1 1.053)">L</text><path d="M145.07 176.95h14.4v2.2h-14.4zM145.07 182.35h14.4v2.2h-14.4z" fill="#000"/><path d="M171.74 187.9H168.89V172.3H164.19V170.1C167.24 169.9 168.94 168.7 170.04 165.7H171.74Z" fill="#000"/><text transform="translate(177.92 187.9) scale(1 1.053)">2</text>
<path d="M212.5 207.5H292.5" fill="none" stroke="#ffff00" stroke-width="1.4" stroke-opacity="0.55" stroke-dasharray="4 4 1 4"/>
<path d="M212.5 203.5v8M292.5 203.5v8" fill="none" stroke="#ffff00" stroke-width="1.2" stroke-opacity="0.55" stroke-dasharray="4 4 1 4"/>
<path d="M248.95 207.5a3.55 3.55 0 1 0 7.1 0a3.55 3.55 0 1 0 -7.1 0" fill="none" stroke="#ffff00" stroke-width="1.15"/>
<text transform="translate(127.04 217.8) scale(1 1.053)">L</text><path d="M145.07 206.85h14.4v2.2h-14.4zM145.07 212.25h14.4v2.2h-14.4z" fill="#000"/><path d="M171.74 217.8H168.89V202.2H164.19V200C167.24 199.8 168.94 198.6 170.04 195.6H171.74Z" fill="#000"/><text transform="translate(177.92 217.8) scale(1 1.053)">0</text>
<path d="M212.5 237.4H292.5" fill="none" stroke="#000000" stroke-width="1.4" stroke-opacity="0.55" stroke-dasharray="2.7 1.3 2.7 5"/>
<path d="M212.5 233.4v8M292.5 233.4v8" fill="none" stroke="#000000" stroke-width="1.2" stroke-opacity="0.55" stroke-dasharray="2.7 1.3 2.7 5"/>
<path d="M248.8 237.4a3.7 3.7 0 1 0 7.4 0a3.7 3.7 0 1 0 -7.4 0z" fill="#000000"/>
<text transform="translate(127.04 247.7) scale(1 1.053)">L</text><path d="M145.07 236.75h14.4v2.2h-14.4zM145.07 242.15h14.4v2.2h-14.4z" fill="#000"/><text transform="translate(161.24 247.7) scale(1 1.053)">08</text>
<path d="M212.5 267.3H292.5" fill="none" stroke="#ff4d00" stroke-width="1.4" stroke-opacity="0.55" stroke-dasharray="3 1.5 3 1.5 3 4"/>
<path d="M212.5 263.3v8M292.5 263.3v8" fill="none" stroke="#ff4d00" stroke-width="1.2" stroke-opacity="0.55" stroke-dasharray="3 1.5 3 1.5 3 4"/>
<path d="M252.5 263.7l3.6 5.8h-7.2z" fill="none" stroke="#ff4d00" stroke-width="1.0"/>
<text transform="translate(127.04 277.6) scale(1 1.053)">L</text><path d="M145.07 266.65h14.4v2.2h-14.4zM145.07 272.05h14.4v2.2h-14.4z" fill="#000"/><text transform="translate(161.24 277.6) scale(1 1.053)">06</text>
<rect x="105" y="35.7" width="674.2" height="485.1" fill="none" stroke="#000" stroke-width="1.5"/>
<path d="M239.84 520.8v-7.5M239.84 35.7v7.5M374.68 520.8v-7.5M374.68 35.7v7.5M509.52 520.8v-7.5M509.52 35.7v7.5M644.36 520.8v-7.5M644.36 35.7v7.5M105 460.16h7.5M779.2 460.16h-7.5M105 399.52h7.5M779.2 399.52h-7.5M105 338.89h7.5M779.2 338.89h-7.5M105 278.25h7.5M779.2 278.25h-7.5M105 217.61h7.5M779.2 217.61h-7.5M105 156.97h7.5M779.2 156.97h-7.5M105 96.34h7.5M779.2 96.34h-7.5" fill="none" stroke="#000" stroke-width="1"/>
<text transform="translate(70.62 531.5) scale(1 1.053)">0</text>
<text transform="translate(70.62 470.86) scale(1 1.053)">5</text>
<path d="M64.44 410.22H61.59V394.62H56.89V392.42C59.94 392.22 61.64 391.02 62.74 388.02H64.44Z" fill="#000"/><text transform="translate(70.62 410.22) scale(1 1.053)">0</text>
<path d="M64.44 349.59H61.59V333.99H56.89V331.79C59.94 331.59 61.64 330.39 62.74 327.39H64.44Z" fill="#000"/><text transform="translate(70.62 349.59) scale(1 1.053)">5</text>
<text transform="translate(53.94 288.95) scale(1 1.053)">20</text>
<text transform="translate(53.94 228.31) scale(1 1.053)">25</text>
<text transform="translate(53.94 167.67) scale(1 1.053)">30</text>
<text transform="translate(53.94 107.04) scale(1 1.053)">35</text>
<text transform="translate(53.94 46.4) scale(1 1.053)">40</text>
<text transform="translate(79.81 561.6) scale(1 1.053)">0.99</text>
<text transform="translate(206.31 561.6) scale(1 1.053)">0.995</text>
<path d="M380.94 561.6H378.09V546H373.39V543.8C376.44 543.6 378.14 542.4 379.24 539.4H380.94Z" fill="#000"/>
<path d="M487.19 561.6H484.34V546H479.64V543.8C482.69 543.6 484.39 542.4 485.49 539.4H487.19Z" fill="#000"/><text transform="translate(493.37 561.6) scale(1 1.053)">.005</text>
<path d="M631.47 561.6H628.62V546H623.92V543.8C626.97 543.6 628.67 542.4 629.77 539.4H631.47Z" fill="#000"/><text transform="translate(637.65 561.6) scale(1 1.053)">.0</text><path d="M673.17 561.6H670.32V546H665.62V543.8C668.67 543.6 670.37 542.4 671.47 539.4H673.17Z" fill="#000"/>
<path d="M757.17 561.6H754.32V546H749.62V543.8C752.67 543.6 754.37 542.4 755.47 539.4H757.17Z" fill="#000"/><text transform="translate(763.35 561.6) scale(1 1.053)">.0</text><path d="M798.87 561.6H796.02V546H791.32V543.8C794.37 543.6 796.07 542.4 797.17 539.4H798.87Z" fill="#000"/><text transform="translate(805.05 561.6) scale(1 1.053)">5</text>
</svg>
</body></html>
